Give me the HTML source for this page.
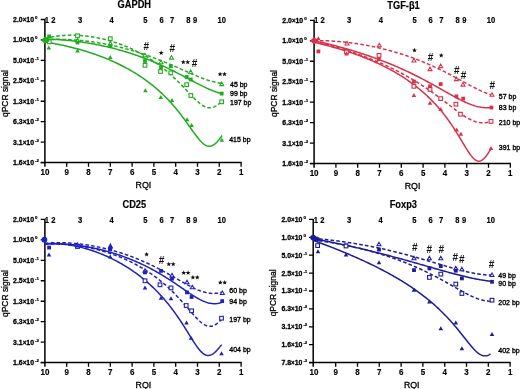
<!DOCTYPE html>
<html><head><meta charset="utf-8"><style>
html,body{margin:0;padding:0;background:#fff;overflow:hidden;}
svg{display:block;font-family:"Liberation Sans", sans-serif;filter:blur(0.35px);}
</style></head><body>
<svg width="520" height="389" viewBox="0 0 520 389">
<rect width="520" height="389" fill="#fff"/>
<text transform="translate(134.30,7.80) scale(1,1.100)" font-size="9.3" font-weight="bold" text-anchor="middle" fill="#000" stroke="#000" stroke-width="0.15">GAPDH</text>
<path d="M44.90,19.00 V166.80 M40.70,162.60 H241.70" stroke="#000" stroke-width="1.5" fill="none"/>
<path d="M40.70,19.50 H44.90 M40.70,39.94 H44.90 M40.70,60.39 H44.90 M40.70,80.83 H44.90 M40.70,101.27 H44.90 M40.70,121.71 H44.90 M40.70,142.16 H44.90 M40.70,162.60 H44.90 M66.70,162.60 V166.80 M88.50,162.60 V166.80 M110.30,162.60 V166.80 M132.10,162.60 V166.80 M153.90,162.60 V166.80 M175.70,162.60 V166.80 M197.50,162.60 V166.80 M219.30,162.60 V166.80 M241.10,162.60 V166.80 " stroke="#000" stroke-width="1.3" fill="none"/>
<text transform="translate(34.00,21.95) scale(1,1.050)" font-size="6.9" font-weight="bold" text-anchor="end" fill="#000" stroke="#000" stroke-width="0.28">2.0<tspan font-size="6.2">&#215;</tspan>10</text>
<text x="35.10" y="19.00" font-size="4.4" font-weight="bold" fill="#000" stroke="#000" stroke-width="0.20">0</text>
<text transform="translate(34.00,42.39) scale(1,1.050)" font-size="6.9" font-weight="bold" text-anchor="end" fill="#000" stroke="#000" stroke-width="0.28">1.0<tspan font-size="6.2">&#215;</tspan>10</text>
<text x="35.10" y="39.44" font-size="4.4" font-weight="bold" fill="#000" stroke="#000" stroke-width="0.20">0</text>
<text transform="translate(34.00,62.84) scale(1,1.050)" font-size="6.9" font-weight="bold" text-anchor="end" fill="#000" stroke="#000" stroke-width="0.28">5.0<tspan font-size="6.2">&#215;</tspan>10</text>
<text x="35.10" y="59.89" font-size="4.4" font-weight="bold" fill="#000" stroke="#000" stroke-width="0.20">-1</text>
<text transform="translate(34.00,83.28) scale(1,1.050)" font-size="6.9" font-weight="bold" text-anchor="end" fill="#000" stroke="#000" stroke-width="0.28">2.5<tspan font-size="6.2">&#215;</tspan>10</text>
<text x="35.10" y="80.33" font-size="4.4" font-weight="bold" fill="#000" stroke="#000" stroke-width="0.20">-1</text>
<text transform="translate(34.00,103.72) scale(1,1.050)" font-size="6.9" font-weight="bold" text-anchor="end" fill="#000" stroke="#000" stroke-width="0.28">1.3<tspan font-size="6.2">&#215;</tspan>10</text>
<text x="35.10" y="100.77" font-size="4.4" font-weight="bold" fill="#000" stroke="#000" stroke-width="0.20">-1</text>
<text transform="translate(34.00,124.16) scale(1,1.050)" font-size="6.9" font-weight="bold" text-anchor="end" fill="#000" stroke="#000" stroke-width="0.28">6.3<tspan font-size="6.2">&#215;</tspan>10</text>
<text x="35.10" y="121.21" font-size="4.4" font-weight="bold" fill="#000" stroke="#000" stroke-width="0.20">-2</text>
<text transform="translate(34.00,144.61) scale(1,1.050)" font-size="6.9" font-weight="bold" text-anchor="end" fill="#000" stroke="#000" stroke-width="0.28">3.1<tspan font-size="6.2">&#215;</tspan>10</text>
<text x="35.10" y="141.66" font-size="4.4" font-weight="bold" fill="#000" stroke="#000" stroke-width="0.20">-2</text>
<text transform="translate(34.00,165.05) scale(1,1.050)" font-size="6.9" font-weight="bold" text-anchor="end" fill="#000" stroke="#000" stroke-width="0.28">1.6<tspan font-size="6.2">&#215;</tspan>10</text>
<text x="35.10" y="162.10" font-size="4.4" font-weight="bold" fill="#000" stroke="#000" stroke-width="0.20">-2</text>
<text transform="translate(44.90,175.20) scale(1,1.100)" font-size="8" font-weight="bold" text-anchor="middle" fill="#000" stroke="#000" stroke-width="0.15">10</text>
<text transform="translate(66.70,175.20) scale(1,1.100)" font-size="8" font-weight="bold" text-anchor="middle" fill="#000" stroke="#000" stroke-width="0.15">9</text>
<text transform="translate(88.50,175.20) scale(1,1.100)" font-size="8" font-weight="bold" text-anchor="middle" fill="#000" stroke="#000" stroke-width="0.15">8</text>
<text transform="translate(110.30,175.20) scale(1,1.100)" font-size="8" font-weight="bold" text-anchor="middle" fill="#000" stroke="#000" stroke-width="0.15">7</text>
<text transform="translate(132.10,175.20) scale(1,1.100)" font-size="8" font-weight="bold" text-anchor="middle" fill="#000" stroke="#000" stroke-width="0.15">6</text>
<text transform="translate(153.90,175.20) scale(1,1.100)" font-size="8" font-weight="bold" text-anchor="middle" fill="#000" stroke="#000" stroke-width="0.15">5</text>
<text transform="translate(175.70,175.20) scale(1,1.100)" font-size="8" font-weight="bold" text-anchor="middle" fill="#000" stroke="#000" stroke-width="0.15">4</text>
<text transform="translate(197.50,175.20) scale(1,1.100)" font-size="8" font-weight="bold" text-anchor="middle" fill="#000" stroke="#000" stroke-width="0.15">3</text>
<text transform="translate(219.30,175.20) scale(1,1.100)" font-size="8" font-weight="bold" text-anchor="middle" fill="#000" stroke="#000" stroke-width="0.15">2</text>
<text transform="translate(241.10,175.20) scale(1,1.100)" font-size="8" font-weight="bold" text-anchor="middle" fill="#000" stroke="#000" stroke-width="0.15">1</text>
<text transform="translate(46.80,22.60) scale(1,1.100)" font-size="7.6" font-weight="bold" text-anchor="middle" fill="#000" stroke="#000" stroke-width="0.15">1</text>
<text transform="translate(53.30,22.60) scale(1,1.100)" font-size="7.6" font-weight="bold" text-anchor="middle" fill="#000" stroke="#000" stroke-width="0.15">2</text>
<text transform="translate(80.00,22.60) scale(1,1.100)" font-size="7.6" font-weight="bold" text-anchor="middle" fill="#000" stroke="#000" stroke-width="0.15">3</text>
<text transform="translate(111.60,22.60) scale(1,1.100)" font-size="7.6" font-weight="bold" text-anchor="middle" fill="#000" stroke="#000" stroke-width="0.15">4</text>
<text transform="translate(145.30,22.60) scale(1,1.100)" font-size="7.6" font-weight="bold" text-anchor="middle" fill="#000" stroke="#000" stroke-width="0.15">5</text>
<text transform="translate(161.50,22.60) scale(1,1.100)" font-size="7.6" font-weight="bold" text-anchor="middle" fill="#000" stroke="#000" stroke-width="0.15">6</text>
<text transform="translate(172.10,22.60) scale(1,1.100)" font-size="7.6" font-weight="bold" text-anchor="middle" fill="#000" stroke="#000" stroke-width="0.15">7</text>
<text transform="translate(188.30,22.60) scale(1,1.100)" font-size="7.6" font-weight="bold" text-anchor="middle" fill="#000" stroke="#000" stroke-width="0.15">8</text>
<text transform="translate(195.20,22.60) scale(1,1.100)" font-size="7.6" font-weight="bold" text-anchor="middle" fill="#000" stroke="#000" stroke-width="0.15">9</text>
<text transform="translate(221.70,22.60) scale(1,1.100)" font-size="7.6" font-weight="bold" text-anchor="middle" fill="#000" stroke="#000" stroke-width="0.15">10</text>
<text x="143.40" y="188.40" font-size="8.8" text-anchor="middle" fill="#000" stroke="#000" stroke-width="0.30">RQI</text>
<text transform="translate(7.90,93.50) rotate(-90)" font-size="8.45" text-anchor="middle" fill="#000" stroke="#000" stroke-width="0.3">qPCR signal</text>
<path d="M44.90,39.83 L45.90,39.76 L46.91,39.70 L47.91,39.64 L48.92,39.59 L49.92,39.54 L50.93,39.50 L51.93,39.46 L52.94,39.43 L53.94,39.41 L54.95,39.39 L55.95,39.37 L56.95,39.36 L57.96,39.35 L58.96,39.35 L59.97,39.36 L60.97,39.37 L61.98,39.38 L62.98,39.40 L63.99,39.42 L64.99,39.45 L66.00,39.48 L67.00,39.52 L68.00,39.56 L69.01,39.61 L70.01,39.66 L71.02,39.71 L72.02,39.77 L73.03,39.84 L74.03,39.90 L75.04,39.98 L76.04,40.05 L77.05,40.13 L78.05,40.22 L79.05,40.31 L80.06,40.40 L81.06,40.50 L82.07,40.60 L83.07,40.70 L84.08,40.81 L85.08,40.92 L86.09,41.04 L87.09,41.16 L88.10,41.29 L89.10,41.42 L90.10,41.55 L91.11,41.68 L92.11,41.82 L93.12,41.97 L94.12,42.12 L95.13,42.27 L96.13,42.43 L97.14,42.59 L98.14,42.75 L99.15,42.92 L100.15,43.09 L101.15,43.26 L102.16,43.44 L103.16,43.63 L104.17,43.81 L105.17,44.00 L106.18,44.20 L107.18,44.39 L108.19,44.60 L109.19,44.80 L110.20,45.01 L111.20,45.23 L112.20,45.44 L113.21,45.66 L114.21,45.89 L115.22,46.12 L116.22,46.35 L117.23,46.59 L118.23,46.83 L119.24,47.07 L120.24,47.32 L121.25,47.57 L122.25,47.82 L123.25,48.08 L124.26,48.35 L125.26,48.61 L126.27,48.88 L127.27,49.16 L128.28,49.44 L129.28,49.72 L130.29,50.00 L131.29,50.29 L132.30,50.59 L133.30,50.88 L134.30,51.19 L135.31,51.49 L136.31,51.80 L137.32,52.11 L138.32,52.43 L139.33,52.75 L140.33,53.08 L141.34,53.40 L142.34,53.74 L143.35,54.07 L144.35,54.41 L145.35,54.75 L146.36,55.10 L147.36,55.45 L148.37,55.81 L149.37,56.17 L150.38,56.53 L151.38,56.89 L152.39,57.26 L153.39,57.64 L154.40,58.01 L155.40,58.40 L156.40,58.78 L157.41,59.17 L158.41,59.56 L159.42,59.95 L160.42,60.35 L161.43,60.75 L162.43,61.16 L163.44,61.56 L164.44,61.97 L165.45,62.39 L166.45,62.80 L167.45,63.22 L168.46,63.65 L169.46,64.07 L170.47,64.50 L171.47,64.93 L172.48,65.36 L173.48,65.79 L174.49,66.23 L175.49,66.67 L176.50,67.11 L177.50,67.55 L178.50,67.99 L179.51,68.44 L180.51,68.88 L181.52,69.33 L182.52,69.78 L183.53,70.22 L184.53,70.67 L185.54,71.12 L186.54,71.56 L187.55,72.01 L188.55,72.45 L189.55,72.89 L190.56,73.33 L191.56,73.77 L192.57,74.21 L193.57,74.64 L194.58,75.07 L195.58,75.49 L196.59,75.91 L197.59,76.33 L198.60,76.74 L199.60,77.14 L200.60,77.54 L201.61,77.93 L202.61,78.31 L203.62,78.69 L204.62,79.05 L205.63,79.41 L206.63,79.76 L207.64,80.09 L208.64,80.42 L209.65,80.73 L210.65,81.03 L211.65,81.32 L212.66,81.59 L213.66,81.85 L214.67,82.09 L215.67,82.32 L216.68,82.53 L217.68,82.72 L218.69,82.89 L219.69,83.05 L220.70,83.19 L221.70,83.31" stroke="#20ac20" stroke-width="1.5" fill="none" stroke-dasharray="3.6 2.2"/>
<path d="M44.90,39.18 L45.90,39.19 L46.91,39.21 L47.91,39.22 L48.92,39.24 L49.92,39.27 L50.93,39.30 L51.93,39.33 L52.94,39.37 L53.94,39.41 L54.95,39.46 L55.95,39.51 L56.95,39.56 L57.96,39.62 L58.96,39.68 L59.97,39.74 L60.97,39.81 L61.98,39.88 L62.98,39.96 L63.99,40.04 L64.99,40.12 L66.00,40.21 L67.00,40.30 L68.00,40.39 L69.01,40.49 L70.01,40.59 L71.02,40.70 L72.02,40.81 L73.03,40.92 L74.03,41.03 L75.04,41.15 L76.04,41.28 L77.05,41.40 L78.05,41.53 L79.05,41.67 L80.06,41.81 L81.06,41.95 L82.07,42.09 L83.07,42.24 L84.08,42.39 L85.08,42.55 L86.09,42.70 L87.09,42.87 L88.10,43.03 L89.10,43.20 L90.10,43.37 L91.11,43.55 L92.11,43.73 L93.12,43.91 L94.12,44.10 L95.13,44.29 L96.13,44.48 L97.14,44.68 L98.14,44.88 L99.15,45.09 L100.15,45.30 L101.15,45.51 L102.16,45.72 L103.16,45.94 L104.17,46.16 L105.17,46.39 L106.18,46.62 L107.18,46.85 L108.19,47.09 L109.19,47.33 L110.20,47.58 L111.20,47.82 L112.20,48.08 L113.21,48.33 L114.21,48.59 L115.22,48.85 L116.22,49.12 L117.23,49.39 L118.23,49.67 L119.24,49.94 L120.24,50.23 L121.25,50.51 L122.25,50.80 L123.25,51.10 L124.26,51.39 L125.26,51.69 L126.27,52.00 L127.27,52.31 L128.28,52.62 L129.28,52.94 L130.29,53.26 L131.29,53.59 L132.30,53.92 L133.30,54.25 L134.30,54.59 L135.31,54.93 L136.31,55.27 L137.32,55.62 L138.32,55.98 L139.33,56.34 L140.33,56.70 L141.34,57.07 L142.34,57.44 L143.35,57.81 L144.35,58.19 L145.35,58.57 L146.36,58.96 L147.36,59.35 L148.37,59.75 L149.37,60.15 L150.38,60.56 L151.38,60.97 L152.39,61.38 L153.39,61.80 L154.40,62.22 L155.40,62.65 L156.40,63.08 L157.41,63.51 L158.41,63.95 L159.42,64.39 L160.42,64.84 L161.43,65.29 L162.43,65.75 L163.44,66.21 L164.44,66.68 L165.45,67.14 L166.45,67.62 L167.45,68.09 L168.46,68.57 L169.46,69.06 L170.47,69.55 L171.47,70.04 L172.48,70.54 L173.48,71.03 L174.49,71.54 L175.49,72.04 L176.50,72.55 L177.50,73.07 L178.50,73.58 L179.51,74.10 L180.51,74.62 L181.52,75.14 L182.52,75.67 L183.53,76.20 L184.53,76.73 L185.54,77.26 L186.54,77.79 L187.55,78.33 L188.55,78.86 L189.55,79.40 L190.56,79.93 L191.56,80.47 L192.57,81.00 L193.57,81.53 L194.58,82.06 L195.58,82.59 L196.59,83.12 L197.59,83.64 L198.60,84.16 L199.60,84.68 L200.60,85.19 L201.61,85.70 L202.61,86.20 L203.62,86.69 L204.62,87.18 L205.63,87.66 L206.63,88.12 L207.64,88.58 L208.64,89.03 L209.65,89.47 L210.65,89.89 L211.65,90.30 L212.66,90.70 L213.66,91.08 L214.67,91.45 L215.67,91.80 L216.68,92.13 L217.68,92.44 L218.69,92.73 L219.69,93.00 L220.70,93.25 L221.70,93.48" stroke="#20ac20" stroke-width="1.5" fill="none"/>
<path d="M44.90,38.62 L45.90,38.33 L46.91,38.06 L47.91,37.80 L48.92,37.56 L49.92,37.33 L50.93,37.11 L51.93,36.91 L52.94,36.72 L53.94,36.55 L54.95,36.38 L55.95,36.23 L56.95,36.09 L57.96,35.96 L58.96,35.84 L59.97,35.73 L60.97,35.63 L61.98,35.55 L62.98,35.47 L63.99,35.40 L64.99,35.34 L66.00,35.29 L67.00,35.25 L68.00,35.22 L69.01,35.20 L70.01,35.18 L71.02,35.18 L72.02,35.18 L73.03,35.20 L74.03,35.22 L75.04,35.24 L76.04,35.28 L77.05,35.33 L78.05,35.38 L79.05,35.44 L80.06,35.51 L81.06,35.58 L82.07,35.66 L83.07,35.75 L84.08,35.85 L85.08,35.96 L86.09,36.07 L87.09,36.19 L88.10,36.32 L89.10,36.45 L90.10,36.60 L91.11,36.74 L92.11,36.90 L93.12,37.06 L94.12,37.23 L95.13,37.41 L96.13,37.60 L97.14,37.79 L98.14,37.99 L99.15,38.19 L100.15,38.41 L101.15,38.63 L102.16,38.85 L103.16,39.09 L104.17,39.33 L105.17,39.58 L106.18,39.83 L107.18,40.10 L108.19,40.37 L109.19,40.64 L110.20,40.93 L111.20,41.22 L112.20,41.52 L113.21,41.83 L114.21,42.14 L115.22,42.46 L116.22,42.79 L117.23,43.13 L118.23,43.47 L119.24,43.82 L120.24,44.18 L121.25,44.55 L122.25,44.93 L123.25,45.31 L124.26,45.70 L125.26,46.10 L126.27,46.51 L127.27,46.93 L128.28,47.35 L129.28,47.78 L130.29,48.23 L131.29,48.68 L132.30,49.14 L133.30,49.60 L134.30,50.08 L135.31,50.57 L136.31,51.06 L137.32,51.57 L138.32,52.08 L139.33,52.61 L140.33,53.14 L141.34,53.68 L142.34,54.24 L143.35,54.80 L144.35,55.37 L145.35,55.96 L146.36,56.55 L147.36,57.16 L148.37,57.78 L149.37,58.40 L150.38,59.04 L151.38,59.69 L152.39,60.36 L153.39,61.03 L154.40,61.71 L155.40,62.41 L156.40,63.12 L157.41,63.84 L158.41,64.58 L159.42,65.32 L160.42,66.08 L161.43,66.86 L162.43,67.64 L163.44,68.44 L164.44,69.25 L165.45,70.08 L166.45,70.92 L167.45,71.77 L168.46,72.64 L169.46,73.52 L170.47,74.41 L171.47,75.32 L172.48,76.24 L173.48,77.18 L174.49,78.13 L175.49,79.09 L176.50,80.06 L177.50,81.05 L178.50,82.04 L179.51,83.05 L180.51,84.07 L181.52,85.10 L182.52,86.14 L183.53,87.19 L184.53,88.24 L185.54,89.30 L186.54,90.36 L187.55,91.43 L188.55,92.49 L189.55,93.55 L190.56,94.61 L191.56,95.66 L192.57,96.69 L193.57,97.71 L194.58,98.71 L195.58,99.69 L196.59,100.64 L197.59,101.55 L198.60,102.43 L199.60,103.26 L200.60,104.04 L201.61,104.76 L202.61,105.42 L203.62,106.01 L204.62,106.53 L205.63,106.96 L206.63,107.31 L207.64,107.57 L208.64,107.74 L209.65,107.81 L210.65,107.78 L211.65,107.65 L212.66,107.42 L213.66,107.09 L214.67,106.66 L215.67,106.14 L216.68,105.53 L217.68,104.83 L218.69,104.05 L219.69,103.19 L220.70,102.26 L221.70,101.27" stroke="#20ac20" stroke-width="1.5" fill="none" stroke-dasharray="3.6 2.2"/>
<path d="M44.90,42.02 L45.90,42.17 L46.90,42.33 L47.90,42.49 L48.90,42.66 L49.90,42.82 L50.90,42.99 L51.90,43.17 L52.90,43.35 L53.91,43.53 L54.91,43.72 L55.91,43.90 L56.91,44.10 L57.91,44.29 L58.91,44.49 L59.91,44.70 L60.91,44.90 L61.91,45.11 L62.91,45.33 L63.91,45.55 L64.91,45.77 L65.91,45.99 L66.91,46.22 L67.91,46.45 L68.91,46.69 L69.91,46.93 L70.91,47.18 L71.92,47.42 L72.92,47.68 L73.92,47.93 L74.92,48.19 L75.92,48.46 L76.92,48.72 L77.92,49.00 L78.92,49.27 L79.92,49.55 L80.92,49.84 L81.92,50.12 L82.92,50.42 L83.92,50.71 L84.92,51.01 L85.92,51.32 L86.92,51.63 L87.92,51.95 L88.92,52.26 L89.93,52.59 L90.93,52.92 L91.93,53.25 L92.93,53.59 L93.93,53.93 L94.93,54.28 L95.93,54.63 L96.93,54.98 L97.93,55.35 L98.93,55.71 L99.93,56.08 L100.93,56.46 L101.93,56.84 L102.93,57.23 L103.93,57.62 L104.93,58.02 L105.93,58.43 L106.94,58.84 L107.94,59.25 L108.94,59.67 L109.94,60.10 L110.94,60.53 L111.94,60.97 L112.94,61.42 L113.94,61.87 L114.94,62.32 L115.94,62.79 L116.94,63.26 L117.94,63.74 L118.94,64.22 L119.94,64.71 L120.94,65.21 L121.94,65.71 L122.94,66.22 L123.94,66.74 L124.95,67.27 L125.95,67.80 L126.95,68.35 L127.95,68.89 L128.95,69.45 L129.95,70.02 L130.95,70.59 L131.95,71.17 L132.95,71.77 L133.95,72.37 L134.95,72.97 L135.95,73.59 L136.95,74.22 L137.95,74.86 L138.95,75.50 L139.95,76.16 L140.95,76.82 L141.95,77.50 L142.96,78.19 L143.96,78.89 L144.96,79.60 L145.96,80.32 L146.96,81.05 L147.96,81.79 L148.96,82.55 L149.96,83.31 L150.96,84.09 L151.96,84.89 L152.96,85.69 L153.96,86.51 L154.96,87.34 L155.96,88.19 L156.96,89.05 L157.96,89.93 L158.96,90.82 L159.96,91.72 L160.97,92.64 L161.97,93.58 L162.97,94.53 L163.97,95.50 L164.97,96.49 L165.97,97.50 L166.97,98.52 L167.97,99.56 L168.97,100.61 L169.97,101.69 L170.97,102.79 L171.97,103.90 L172.97,105.03 L173.97,106.19 L174.97,107.36 L175.97,108.55 L176.97,109.76 L177.98,111.00 L178.98,112.25 L179.98,113.52 L180.98,114.81 L181.98,116.12 L182.98,117.44 L183.98,118.79 L184.98,120.15 L185.98,121.52 L186.98,122.91 L187.98,124.31 L188.98,125.71 L189.98,127.13 L190.98,128.54 L191.98,129.95 L192.98,131.36 L193.98,132.75 L194.98,134.12 L195.99,135.47 L196.99,136.79 L197.99,138.06 L198.99,139.29 L199.99,140.45 L200.99,141.54 L201.99,142.54 L202.99,143.45 L203.99,144.25 L204.99,144.94 L205.99,145.49 L206.99,145.91 L207.99,146.18 L208.99,146.30 L209.99,146.27 L210.99,146.09 L211.99,145.74 L212.99,145.25 L214.00,144.62 L215.00,143.85 L216.00,142.95 L217.00,141.94 L218.00,140.82 L219.00,139.61 L220.00,138.32 L221.00,136.96 L222.00,135.53" stroke="#20ac20" stroke-width="1.5" fill="none"/>
<polygon points="77.50,38.40 75.50,41.90 79.50,41.90" fill="#fff" stroke="#20ac20" stroke-width="1.05" stroke-linejoin="miter"/>
<polygon points="110.30,41.40 108.30,44.90 112.30,44.90" fill="#fff" stroke="#20ac20" stroke-width="1.05" stroke-linejoin="miter"/>
<polygon points="145.00,53.30 143.00,56.80 147.00,56.80" fill="#fff" stroke="#20ac20" stroke-width="1.05" stroke-linejoin="miter"/>
<polygon points="161.00,60.30 159.00,63.80 163.00,63.80" fill="#fff" stroke="#20ac20" stroke-width="1.05" stroke-linejoin="miter"/>
<polygon points="171.50,55.60 169.50,59.10 173.50,59.10" fill="#fff" stroke="#20ac20" stroke-width="1.05" stroke-linejoin="miter"/>
<polygon points="190.60,69.90 188.60,73.40 192.60,73.40" fill="#fff" stroke="#20ac20" stroke-width="1.05" stroke-linejoin="miter"/>
<polygon points="221.70,82.10 219.70,85.60 223.70,85.60" fill="#fff" stroke="#20ac20" stroke-width="1.05" stroke-linejoin="miter"/>
<rect x="47.20" y="34.50" width="3.80" height="3.80" fill="#20ac20"/>
<rect x="75.60" y="40.60" width="3.80" height="3.80" fill="#20ac20"/>
<rect x="108.40" y="44.10" width="3.80" height="3.80" fill="#20ac20"/>
<rect x="143.10" y="59.10" width="3.80" height="3.80" fill="#20ac20"/>
<rect x="159.10" y="65.40" width="3.80" height="3.80" fill="#20ac20"/>
<rect x="168.90" y="64.30" width="3.80" height="3.80" fill="#20ac20"/>
<rect x="184.80" y="75.10" width="3.80" height="3.80" fill="#20ac20"/>
<rect x="188.90" y="77.60" width="3.80" height="3.80" fill="#20ac20"/>
<rect x="219.80" y="91.70" width="3.80" height="3.80" fill="#20ac20"/>
<rect x="47.45" y="39.95" width="3.70" height="3.70" fill="#fff" stroke="#20ac20" stroke-width="1.1"/>
<rect x="75.65" y="33.95" width="3.70" height="3.70" fill="#fff" stroke="#20ac20" stroke-width="1.1"/>
<rect x="108.45" y="36.85" width="3.70" height="3.70" fill="#fff" stroke="#20ac20" stroke-width="1.1"/>
<rect x="143.15" y="63.45" width="3.70" height="3.70" fill="#fff" stroke="#20ac20" stroke-width="1.1"/>
<rect x="158.65" y="69.65" width="3.70" height="3.70" fill="#fff" stroke="#20ac20" stroke-width="1.1"/>
<rect x="168.95" y="71.05" width="3.70" height="3.70" fill="#fff" stroke="#20ac20" stroke-width="1.1"/>
<rect x="184.85" y="82.85" width="3.70" height="3.70" fill="#fff" stroke="#20ac20" stroke-width="1.1"/>
<rect x="188.95" y="93.65" width="3.70" height="3.70" fill="#fff" stroke="#20ac20" stroke-width="1.1"/>
<rect x="219.85" y="99.95" width="3.70" height="3.70" fill="#fff" stroke="#20ac20" stroke-width="1.1"/>
<polygon points="48.80,45.50 46.50,49.50 51.10,49.50" fill="#20ac20"/>
<polygon points="77.50,48.40 75.20,52.40 79.80,52.40" fill="#20ac20"/>
<polygon points="110.30,54.90 108.00,58.90 112.60,58.90" fill="#20ac20"/>
<polygon points="145.40,88.30 143.10,92.30 147.70,92.30" fill="#20ac20"/>
<polygon points="160.80,95.00 158.50,99.00 163.10,99.00" fill="#20ac20"/>
<polygon points="172.00,98.00 169.70,102.00 174.30,102.00" fill="#20ac20"/>
<polygon points="187.10,117.20 184.80,121.20 189.40,121.20" fill="#20ac20"/>
<polygon points="191.60,123.00 189.30,127.00 193.90,127.00" fill="#20ac20"/>
<polygon points="221.80,137.80 219.50,141.80 224.10,141.80" fill="#20ac20"/>
<polygon points="41.00,40.20 45.00,36.40 49.00,40.20 45.00,44.00" fill="#20ac20"/>
<rect x="45.10" y="38.30" width="3.80" height="3.80" fill="#20ac20"/>
<text x="146.30" y="49.80" font-size="10" font-weight="bold" text-anchor="middle" fill="#111">#</text>
<polygon points="161.20,50.50 161.86,52.09 163.58,52.23 162.27,53.35 162.67,55.02 161.20,54.12 159.73,55.02 160.13,53.35 158.82,52.23 160.54,52.09" fill="#111"/>
<text x="172.30" y="52.40" font-size="10" font-weight="bold" text-anchor="middle" fill="#111">#</text>
<polygon points="183.30,59.70 183.96,61.29 185.68,61.43 184.37,62.55 184.77,64.22 183.30,63.33 181.83,64.22 182.23,62.55 180.92,61.43 182.64,61.29" fill="#111"/><polygon points="187.70,59.70 188.36,61.29 190.08,61.43 188.77,62.55 189.17,64.22 187.70,63.33 186.23,64.22 186.63,62.55 185.32,61.43 187.04,61.29" fill="#111"/>
<text x="194.50" y="66.90" font-size="10" font-weight="bold" text-anchor="middle" fill="#111">#</text>
<polygon points="220.10,71.70 220.76,73.29 222.48,73.43 221.17,74.55 221.57,76.22 220.10,75.33 218.63,76.22 219.03,74.55 217.72,73.43 219.44,73.29" fill="#111"/><polygon points="224.50,71.70 225.16,73.29 226.88,73.43 225.57,74.55 225.97,76.22 224.50,75.33 223.03,76.22 223.43,74.55 222.12,73.43 223.84,73.29" fill="#111"/>
<text x="230.00" y="86.70" font-size="7" fill="#000" stroke="#000" stroke-width="0.35">45 bp</text>
<text x="230.00" y="96.40" font-size="7" fill="#000" stroke="#000" stroke-width="0.35">99 bp</text>
<text x="230.00" y="104.90" font-size="7" fill="#000" stroke="#000" stroke-width="0.35">197 bp</text>
<text x="229.20" y="142.10" font-size="7" fill="#000" stroke="#000" stroke-width="0.35">415 bp</text>
<text transform="translate(403.50,8.60) scale(1,1.100)" font-size="9.3" font-weight="bold" text-anchor="middle" fill="#000" stroke="#000" stroke-width="0.15">TGF-&#946;1</text>
<path d="M314.10,19.80 V167.80 M309.90,163.60 H510.90" stroke="#000" stroke-width="1.5" fill="none"/>
<path d="M309.90,20.30 H314.10 M309.90,40.77 H314.10 M309.90,61.24 H314.10 M309.90,81.71 H314.10 M309.90,102.19 H314.10 M309.90,122.66 H314.10 M309.90,143.13 H314.10 M309.90,163.60 H314.10 M335.90,163.60 V167.80 M357.70,163.60 V167.80 M379.50,163.60 V167.80 M401.30,163.60 V167.80 M423.10,163.60 V167.80 M444.90,163.60 V167.80 M466.70,163.60 V167.80 M488.50,163.60 V167.80 M510.30,163.60 V167.80 " stroke="#000" stroke-width="1.3" fill="none"/>
<text transform="translate(303.20,22.75) scale(1,1.050)" font-size="6.9" font-weight="bold" text-anchor="end" fill="#000" stroke="#000" stroke-width="0.28">2.0<tspan font-size="6.2">&#215;</tspan>10</text>
<text x="304.30" y="19.80" font-size="4.4" font-weight="bold" fill="#000" stroke="#000" stroke-width="0.20">0</text>
<text transform="translate(303.20,43.22) scale(1,1.050)" font-size="6.9" font-weight="bold" text-anchor="end" fill="#000" stroke="#000" stroke-width="0.28">1.0<tspan font-size="6.2">&#215;</tspan>10</text>
<text x="304.30" y="40.27" font-size="4.4" font-weight="bold" fill="#000" stroke="#000" stroke-width="0.20">0</text>
<text transform="translate(303.20,63.69) scale(1,1.050)" font-size="6.9" font-weight="bold" text-anchor="end" fill="#000" stroke="#000" stroke-width="0.28">5.0<tspan font-size="6.2">&#215;</tspan>10</text>
<text x="304.30" y="60.74" font-size="4.4" font-weight="bold" fill="#000" stroke="#000" stroke-width="0.20">-1</text>
<text transform="translate(303.20,84.16) scale(1,1.050)" font-size="6.9" font-weight="bold" text-anchor="end" fill="#000" stroke="#000" stroke-width="0.28">2.5<tspan font-size="6.2">&#215;</tspan>10</text>
<text x="304.30" y="81.21" font-size="4.4" font-weight="bold" fill="#000" stroke="#000" stroke-width="0.20">-1</text>
<text transform="translate(303.20,104.64) scale(1,1.050)" font-size="6.9" font-weight="bold" text-anchor="end" fill="#000" stroke="#000" stroke-width="0.28">1.3<tspan font-size="6.2">&#215;</tspan>10</text>
<text x="304.30" y="101.69" font-size="4.4" font-weight="bold" fill="#000" stroke="#000" stroke-width="0.20">-1</text>
<text transform="translate(303.20,125.11) scale(1,1.050)" font-size="6.9" font-weight="bold" text-anchor="end" fill="#000" stroke="#000" stroke-width="0.28">6.3<tspan font-size="6.2">&#215;</tspan>10</text>
<text x="304.30" y="122.16" font-size="4.4" font-weight="bold" fill="#000" stroke="#000" stroke-width="0.20">-2</text>
<text transform="translate(303.20,145.58) scale(1,1.050)" font-size="6.9" font-weight="bold" text-anchor="end" fill="#000" stroke="#000" stroke-width="0.28">3.1<tspan font-size="6.2">&#215;</tspan>10</text>
<text x="304.30" y="142.63" font-size="4.4" font-weight="bold" fill="#000" stroke="#000" stroke-width="0.20">-2</text>
<text transform="translate(303.20,166.05) scale(1,1.050)" font-size="6.9" font-weight="bold" text-anchor="end" fill="#000" stroke="#000" stroke-width="0.28">1.6<tspan font-size="6.2">&#215;</tspan>10</text>
<text x="304.30" y="163.10" font-size="4.4" font-weight="bold" fill="#000" stroke="#000" stroke-width="0.20">-2</text>
<text transform="translate(314.10,176.20) scale(1,1.100)" font-size="8" font-weight="bold" text-anchor="middle" fill="#000" stroke="#000" stroke-width="0.15">10</text>
<text transform="translate(335.90,176.20) scale(1,1.100)" font-size="8" font-weight="bold" text-anchor="middle" fill="#000" stroke="#000" stroke-width="0.15">9</text>
<text transform="translate(357.70,176.20) scale(1,1.100)" font-size="8" font-weight="bold" text-anchor="middle" fill="#000" stroke="#000" stroke-width="0.15">8</text>
<text transform="translate(379.50,176.20) scale(1,1.100)" font-size="8" font-weight="bold" text-anchor="middle" fill="#000" stroke="#000" stroke-width="0.15">7</text>
<text transform="translate(401.30,176.20) scale(1,1.100)" font-size="8" font-weight="bold" text-anchor="middle" fill="#000" stroke="#000" stroke-width="0.15">6</text>
<text transform="translate(423.10,176.20) scale(1,1.100)" font-size="8" font-weight="bold" text-anchor="middle" fill="#000" stroke="#000" stroke-width="0.15">5</text>
<text transform="translate(444.90,176.20) scale(1,1.100)" font-size="8" font-weight="bold" text-anchor="middle" fill="#000" stroke="#000" stroke-width="0.15">4</text>
<text transform="translate(466.70,176.20) scale(1,1.100)" font-size="8" font-weight="bold" text-anchor="middle" fill="#000" stroke="#000" stroke-width="0.15">3</text>
<text transform="translate(488.50,176.20) scale(1,1.100)" font-size="8" font-weight="bold" text-anchor="middle" fill="#000" stroke="#000" stroke-width="0.15">2</text>
<text transform="translate(510.30,176.20) scale(1,1.100)" font-size="8" font-weight="bold" text-anchor="middle" fill="#000" stroke="#000" stroke-width="0.15">1</text>
<text transform="translate(316.00,23.40) scale(1,1.100)" font-size="7.6" font-weight="bold" text-anchor="middle" fill="#000" stroke="#000" stroke-width="0.15">1</text>
<text transform="translate(322.50,23.40) scale(1,1.100)" font-size="7.6" font-weight="bold" text-anchor="middle" fill="#000" stroke="#000" stroke-width="0.15">2</text>
<text transform="translate(349.20,23.40) scale(1,1.100)" font-size="7.6" font-weight="bold" text-anchor="middle" fill="#000" stroke="#000" stroke-width="0.15">3</text>
<text transform="translate(380.80,23.40) scale(1,1.100)" font-size="7.6" font-weight="bold" text-anchor="middle" fill="#000" stroke="#000" stroke-width="0.15">4</text>
<text transform="translate(414.50,23.40) scale(1,1.100)" font-size="7.6" font-weight="bold" text-anchor="middle" fill="#000" stroke="#000" stroke-width="0.15">5</text>
<text transform="translate(430.70,23.40) scale(1,1.100)" font-size="7.6" font-weight="bold" text-anchor="middle" fill="#000" stroke="#000" stroke-width="0.15">6</text>
<text transform="translate(441.30,23.40) scale(1,1.100)" font-size="7.6" font-weight="bold" text-anchor="middle" fill="#000" stroke="#000" stroke-width="0.15">7</text>
<text transform="translate(457.50,23.40) scale(1,1.100)" font-size="7.6" font-weight="bold" text-anchor="middle" fill="#000" stroke="#000" stroke-width="0.15">8</text>
<text transform="translate(464.40,23.40) scale(1,1.100)" font-size="7.6" font-weight="bold" text-anchor="middle" fill="#000" stroke="#000" stroke-width="0.15">9</text>
<text transform="translate(490.90,23.40) scale(1,1.100)" font-size="7.6" font-weight="bold" text-anchor="middle" fill="#000" stroke="#000" stroke-width="0.15">10</text>
<text x="412.60" y="189.40" font-size="8.8" text-anchor="middle" fill="#000" stroke="#000" stroke-width="0.30">RQI</text>
<text transform="translate(277.10,93.50) rotate(-90)" font-size="8.45" text-anchor="middle" fill="#000" stroke="#000" stroke-width="0.3">qPCR signal</text>
<path d="M314.10,40.67 L315.10,40.65 L316.10,40.64 L317.11,40.64 L318.11,40.64 L319.11,40.64 L320.11,40.65 L321.12,40.66 L322.12,40.68 L323.12,40.70 L324.12,40.72 L325.12,40.75 L326.13,40.79 L327.13,40.82 L328.13,40.87 L329.13,40.91 L330.14,40.96 L331.14,41.01 L332.14,41.07 L333.14,41.13 L334.15,41.20 L335.15,41.27 L336.15,41.34 L337.15,41.42 L338.15,41.50 L339.16,41.58 L340.16,41.67 L341.16,41.76 L342.16,41.86 L343.17,41.96 L344.17,42.06 L345.17,42.17 L346.17,42.28 L347.17,42.39 L348.18,42.51 L349.18,42.63 L350.18,42.76 L351.18,42.89 L352.19,43.02 L353.19,43.15 L354.19,43.29 L355.19,43.44 L356.19,43.58 L357.20,43.74 L358.20,43.89 L359.20,44.05 L360.20,44.21 L361.21,44.37 L362.21,44.54 L363.21,44.71 L364.21,44.89 L365.22,45.07 L366.22,45.25 L367.22,45.44 L368.22,45.63 L369.22,45.82 L370.23,46.02 L371.23,46.22 L372.23,46.43 L373.23,46.64 L374.24,46.85 L375.24,47.06 L376.24,47.28 L377.24,47.51 L378.24,47.73 L379.25,47.96 L380.25,48.20 L381.25,48.44 L382.25,48.68 L383.26,48.92 L384.26,49.17 L385.26,49.43 L386.26,49.68 L387.26,49.94 L388.27,50.21 L389.27,50.48 L390.27,50.75 L391.27,51.03 L392.28,51.31 L393.28,51.59 L394.28,51.88 L395.28,52.17 L396.29,52.47 L397.29,52.77 L398.29,53.07 L399.29,53.38 L400.29,53.69 L401.30,54.01 L402.30,54.33 L403.30,54.65 L404.30,54.98 L405.31,55.31 L406.31,55.65 L407.31,55.99 L408.31,56.34 L409.31,56.68 L410.32,57.04 L411.32,57.40 L412.32,57.76 L413.32,58.13 L414.33,58.50 L415.33,58.87 L416.33,59.25 L417.33,59.63 L418.34,60.02 L419.34,60.42 L420.34,60.81 L421.34,61.22 L422.34,61.62 L423.35,62.03 L424.35,62.45 L425.35,62.87 L426.35,63.29 L427.36,63.72 L428.36,64.15 L429.36,64.59 L430.36,65.03 L431.36,65.48 L432.37,65.93 L433.37,66.38 L434.37,66.84 L435.37,67.31 L436.38,67.77 L437.38,68.25 L438.38,68.72 L439.38,69.20 L440.38,69.69 L441.39,70.18 L442.39,70.67 L443.39,71.17 L444.39,71.67 L445.40,72.18 L446.40,72.69 L447.40,73.20 L448.40,73.72 L449.41,74.24 L450.41,74.76 L451.41,75.29 L452.41,75.82 L453.41,76.35 L454.42,76.88 L455.42,77.42 L456.42,77.96 L457.42,78.50 L458.43,79.05 L459.43,79.59 L460.43,80.14 L461.43,80.68 L462.43,81.23 L463.44,81.78 L464.44,82.33 L465.44,82.88 L466.44,83.42 L467.45,83.97 L468.45,84.51 L469.45,85.05 L470.45,85.59 L471.45,86.12 L472.46,86.65 L473.46,87.18 L474.46,87.70 L475.46,88.21 L476.47,88.72 L477.47,89.22 L478.47,89.71 L479.47,90.19 L480.48,90.66 L481.48,91.12 L482.48,91.57 L483.48,92.00 L484.48,92.42 L485.49,92.83 L486.49,93.22 L487.49,93.59 L488.49,93.95 L489.50,94.29 L490.50,94.60 L491.50,94.90" stroke="#d8324a" stroke-width="1.5" fill="none" stroke-dasharray="3.6 2.2"/>
<path d="M314.10,40.80 L315.11,41.02 L316.11,41.24 L317.12,41.46 L318.12,41.68 L319.13,41.91 L320.13,42.14 L321.14,42.37 L322.14,42.60 L323.15,42.84 L324.15,43.07 L325.16,43.31 L326.16,43.55 L327.17,43.80 L328.17,44.04 L329.18,44.29 L330.18,44.54 L331.19,44.79 L332.19,45.04 L333.20,45.30 L334.20,45.55 L335.21,45.81 L336.21,46.07 L337.22,46.34 L338.22,46.60 L339.23,46.87 L340.23,47.14 L341.24,47.42 L342.24,47.69 L343.25,47.97 L344.25,48.25 L345.26,48.53 L346.26,48.82 L347.27,49.11 L348.27,49.40 L349.28,49.69 L350.28,49.98 L351.29,50.28 L352.29,50.58 L353.30,50.88 L354.30,51.19 L355.31,51.49 L356.31,51.80 L357.32,52.12 L358.33,52.43 L359.33,52.75 L360.34,53.07 L361.34,53.39 L362.35,53.72 L363.35,54.05 L364.36,54.38 L365.36,54.71 L366.37,55.05 L367.37,55.39 L368.38,55.73 L369.38,56.08 L370.39,56.43 L371.39,56.78 L372.40,57.13 L373.40,57.49 L374.41,57.85 L375.41,58.21 L376.42,58.58 L377.42,58.95 L378.43,59.32 L379.43,59.70 L380.44,60.08 L381.44,60.46 L382.45,60.84 L383.45,61.23 L384.46,61.62 L385.46,62.02 L386.47,62.42 L387.47,62.82 L388.48,63.22 L389.48,63.63 L390.49,64.04 L391.49,64.46 L392.50,64.88 L393.50,65.30 L394.51,65.73 L395.51,66.15 L396.52,66.59 L397.52,67.02 L398.53,67.46 L399.53,67.90 L400.54,68.35 L401.54,68.80 L402.55,69.26 L403.56,69.71 L404.56,70.17 L405.57,70.64 L406.57,71.11 L407.58,71.58 L408.58,72.05 L409.59,72.53 L410.59,73.02 L411.60,73.50 L412.60,73.99 L413.61,74.49 L414.61,74.98 L415.62,75.48 L416.62,75.99 L417.63,76.50 L418.63,77.01 L419.64,77.52 L420.64,78.04 L421.65,78.56 L422.65,79.09 L423.66,79.62 L424.66,80.15 L425.67,80.69 L426.67,81.22 L427.68,81.77 L428.68,82.31 L429.69,82.86 L430.69,83.41 L431.70,83.96 L432.70,84.51 L433.71,85.07 L434.71,85.63 L435.72,86.19 L436.72,86.75 L437.73,87.32 L438.73,87.89 L439.74,88.45 L440.74,89.02 L441.75,89.59 L442.75,90.16 L443.76,90.73 L444.76,91.30 L445.77,91.87 L446.77,92.44 L447.78,93.01 L448.79,93.57 L449.79,94.14 L450.80,94.70 L451.80,95.26 L452.81,95.81 L453.81,96.36 L454.82,96.91 L455.82,97.45 L456.83,97.99 L457.83,98.52 L458.84,99.04 L459.84,99.56 L460.85,100.06 L461.85,100.56 L462.86,101.05 L463.86,101.53 L464.87,102.00 L465.87,102.45 L466.88,102.89 L467.88,103.32 L468.89,103.73 L469.89,104.13 L470.90,104.51 L471.90,104.88 L472.91,105.22 L473.91,105.55 L474.92,105.86 L475.92,106.14 L476.93,106.41 L477.93,106.65 L478.94,106.87 L479.94,107.06 L480.95,107.24 L481.95,107.38 L482.96,107.50 L483.96,107.60 L484.97,107.67 L485.97,107.71 L486.98,107.72 L487.98,107.71 L488.99,107.67 L489.99,107.60 L491.00,107.51" stroke="#d8324a" stroke-width="1.5" fill="none"/>
<path d="M314.10,41.00 L315.11,41.25 L316.11,41.50 L317.12,41.76 L318.12,42.01 L319.13,42.27 L320.13,42.53 L321.14,42.79 L322.14,43.06 L323.15,43.32 L324.15,43.59 L325.16,43.86 L326.16,44.14 L327.17,44.41 L328.17,44.69 L329.18,44.97 L330.18,45.25 L331.19,45.54 L332.19,45.83 L333.20,46.12 L334.20,46.41 L335.21,46.70 L336.21,47.00 L337.22,47.30 L338.22,47.60 L339.23,47.91 L340.23,48.21 L341.24,48.52 L342.24,48.84 L343.25,49.15 L344.25,49.47 L345.26,49.79 L346.26,50.11 L347.27,50.44 L348.27,50.77 L349.28,51.10 L350.28,51.44 L351.29,51.77 L352.29,52.12 L353.30,52.46 L354.30,52.81 L355.31,53.16 L356.31,53.51 L357.32,53.87 L358.33,54.22 L359.33,54.59 L360.34,54.95 L361.34,55.32 L362.35,55.69 L363.35,56.07 L364.36,56.45 L365.36,56.83 L366.37,57.22 L367.37,57.60 L368.38,58.00 L369.38,58.39 L370.39,58.79 L371.39,59.20 L372.40,59.60 L373.40,60.01 L374.41,60.43 L375.41,60.85 L376.42,61.27 L377.42,61.70 L378.43,62.13 L379.43,62.56 L380.44,63.00 L381.44,63.44 L382.45,63.89 L383.45,64.34 L384.46,64.79 L385.46,65.25 L386.47,65.72 L387.47,66.19 L388.48,66.66 L389.48,67.13 L390.49,67.62 L391.49,68.10 L392.50,68.59 L393.50,69.09 L394.51,69.59 L395.51,70.10 L396.52,70.61 L397.52,71.12 L398.53,71.64 L399.53,72.17 L400.54,72.70 L401.54,73.23 L402.55,73.77 L403.56,74.32 L404.56,74.87 L405.57,75.43 L406.57,75.99 L407.58,76.56 L408.58,77.13 L409.59,77.71 L410.59,78.30 L411.60,78.89 L412.60,79.48 L413.61,80.08 L414.61,80.69 L415.62,81.31 L416.62,81.93 L417.63,82.55 L418.63,83.18 L419.64,83.82 L420.64,84.46 L421.65,85.11 L422.65,85.77 L423.66,86.43 L424.66,87.10 L425.67,87.77 L426.67,88.45 L427.68,89.14 L428.68,89.83 L429.69,90.53 L430.69,91.23 L431.70,91.94 L432.70,92.66 L433.71,93.38 L434.71,94.10 L435.72,94.83 L436.72,95.57 L437.73,96.31 L438.73,97.06 L439.74,97.81 L440.74,98.56 L441.75,99.32 L442.75,100.08 L443.76,100.84 L444.76,101.61 L445.77,102.38 L446.77,103.15 L447.78,103.92 L448.79,104.70 L449.79,105.47 L450.80,106.24 L451.80,107.01 L452.81,107.78 L453.81,108.54 L454.82,109.30 L455.82,110.06 L456.83,110.81 L457.83,111.55 L458.84,112.28 L459.84,113.00 L460.85,113.71 L461.85,114.40 L462.86,115.09 L463.86,115.75 L464.87,116.40 L465.87,117.02 L466.88,117.63 L467.88,118.21 L468.89,118.76 L469.89,119.29 L470.90,119.79 L471.90,120.25 L472.91,120.69 L473.91,121.08 L474.92,121.44 L475.92,121.77 L476.93,122.05 L477.93,122.29 L478.94,122.48 L479.94,122.63 L480.95,122.74 L481.95,122.80 L482.96,122.81 L483.96,122.78 L484.97,122.70 L485.97,122.57 L486.98,122.40 L487.98,122.18 L488.99,121.91 L489.99,121.60 L491.00,121.25" stroke="#d8324a" stroke-width="1.5" fill="none" stroke-dasharray="3.6 2.2"/>
<path d="M314.10,42.43 L315.11,42.66 L316.11,42.89 L317.12,43.12 L318.12,43.35 L319.13,43.59 L320.13,43.83 L321.14,44.07 L322.14,44.31 L323.15,44.56 L324.15,44.81 L325.16,45.06 L326.16,45.32 L327.17,45.58 L328.17,45.84 L329.18,46.11 L330.18,46.37 L331.19,46.65 L332.19,46.92 L333.20,47.20 L334.20,47.48 L335.21,47.76 L336.21,48.05 L337.22,48.34 L338.22,48.64 L339.23,48.93 L340.23,49.23 L341.24,49.54 L342.24,49.85 L343.25,50.16 L344.25,50.47 L345.26,50.79 L346.26,51.11 L347.27,51.44 L348.27,51.77 L349.28,52.10 L350.28,52.44 L351.29,52.78 L352.29,53.12 L353.30,53.47 L354.30,53.82 L355.31,54.18 L356.31,54.54 L357.32,54.91 L358.33,55.28 L359.33,55.65 L360.34,56.03 L361.34,56.41 L362.35,56.80 L363.35,57.19 L364.36,57.58 L365.36,57.98 L366.37,58.39 L367.37,58.80 L368.38,59.21 L369.38,59.63 L370.39,60.06 L371.39,60.48 L372.40,60.92 L373.40,61.36 L374.41,61.80 L375.41,62.25 L376.42,62.71 L377.42,63.17 L378.43,63.64 L379.43,64.11 L380.44,64.59 L381.44,65.08 L382.45,65.57 L383.45,66.06 L384.46,66.57 L385.46,67.08 L386.47,67.59 L387.47,68.12 L388.48,68.65 L389.48,69.18 L390.49,69.73 L391.49,70.28 L392.50,70.83 L393.50,71.40 L394.51,71.97 L395.51,72.55 L396.52,73.14 L397.52,73.74 L398.53,74.34 L399.53,74.96 L400.54,75.58 L401.54,76.21 L402.55,76.85 L403.56,77.49 L404.56,78.15 L405.57,78.82 L406.57,79.50 L407.58,80.18 L408.58,80.88 L409.59,81.59 L410.59,82.30 L411.60,83.03 L412.60,83.77 L413.61,84.52 L414.61,85.29 L415.62,86.06 L416.62,86.85 L417.63,87.65 L418.63,88.46 L419.64,89.29 L420.64,90.12 L421.65,90.98 L422.65,91.84 L423.66,92.73 L424.66,93.62 L425.67,94.53 L426.67,95.46 L427.68,96.41 L428.68,97.37 L429.69,98.34 L430.69,99.34 L431.70,100.35 L432.70,101.38 L433.71,102.44 L434.71,103.51 L435.72,104.60 L436.72,105.71 L437.73,106.84 L438.73,107.99 L439.74,109.16 L440.74,110.36 L441.75,111.58 L442.75,112.83 L443.76,114.10 L444.76,115.39 L445.77,116.71 L446.77,118.05 L447.78,119.42 L448.79,120.81 L449.79,122.24 L450.80,123.68 L451.80,125.16 L452.81,126.66 L453.81,128.18 L454.82,129.74 L455.82,131.31 L456.83,132.91 L457.83,134.53 L458.84,136.17 L459.84,137.82 L460.85,139.49 L461.85,141.16 L462.86,142.84 L463.86,144.51 L464.87,146.18 L465.87,147.82 L466.88,149.43 L467.88,151.01 L468.89,152.53 L469.89,153.98 L470.90,155.34 L471.90,156.61 L472.91,157.75 L473.91,158.75 L474.92,159.60 L475.92,160.28 L476.93,160.77 L477.93,161.06 L478.94,161.15 L479.94,161.03 L480.95,160.70 L481.95,160.18 L482.96,159.45 L483.96,158.55 L484.97,157.48 L485.97,156.26 L486.98,154.92 L487.98,153.46 L488.99,151.90 L489.99,150.27 L491.00,148.57" stroke="#d8324a" stroke-width="1.5" fill="none"/>
<polygon points="347.00,41.40 345.00,44.90 349.00,44.90" fill="#fff" stroke="#d8324a" stroke-width="1.05" stroke-linejoin="miter"/>
<polygon points="379.30,43.30 377.30,46.80 381.30,46.80" fill="#fff" stroke="#d8324a" stroke-width="1.05" stroke-linejoin="miter"/>
<polygon points="414.00,58.40 412.00,61.90 416.00,61.90" fill="#fff" stroke="#d8324a" stroke-width="1.05" stroke-linejoin="miter"/>
<polygon points="430.00,67.10 428.00,70.60 432.00,70.60" fill="#fff" stroke="#d8324a" stroke-width="1.05" stroke-linejoin="miter"/>
<polygon points="440.70,64.10 438.70,67.60 442.70,67.60" fill="#fff" stroke="#d8324a" stroke-width="1.05" stroke-linejoin="miter"/>
<polygon points="456.40,77.10 454.40,80.60 458.40,80.60" fill="#fff" stroke="#d8324a" stroke-width="1.05" stroke-linejoin="miter"/>
<polygon points="463.00,82.60 461.00,86.10 465.00,86.10" fill="#fff" stroke="#d8324a" stroke-width="1.05" stroke-linejoin="miter"/>
<polygon points="492.00,92.80 490.00,96.30 494.00,96.30" fill="#fff" stroke="#d8324a" stroke-width="1.05" stroke-linejoin="miter"/>
<rect x="316.50" y="49.50" width="3.80" height="3.80" fill="#d8324a"/>
<rect x="344.60" y="48.60" width="3.80" height="3.80" fill="#d8324a"/>
<rect x="377.10" y="55.10" width="3.80" height="3.80" fill="#d8324a"/>
<rect x="412.10" y="79.70" width="3.80" height="3.80" fill="#d8324a"/>
<rect x="428.10" y="84.40" width="3.80" height="3.80" fill="#d8324a"/>
<rect x="438.80" y="82.20" width="3.80" height="3.80" fill="#d8324a"/>
<rect x="454.50" y="94.50" width="3.80" height="3.80" fill="#d8324a"/>
<rect x="461.30" y="96.70" width="3.80" height="3.80" fill="#d8324a"/>
<rect x="489.50" y="105.60" width="3.80" height="3.80" fill="#d8324a"/>
<rect x="344.65" y="50.15" width="3.70" height="3.70" fill="#fff" stroke="#d8324a" stroke-width="1.1"/>
<rect x="377.15" y="53.55" width="3.70" height="3.70" fill="#fff" stroke="#d8324a" stroke-width="1.1"/>
<rect x="412.05" y="84.45" width="3.70" height="3.70" fill="#fff" stroke="#d8324a" stroke-width="1.1"/>
<rect x="428.15" y="87.55" width="3.70" height="3.70" fill="#fff" stroke="#d8324a" stroke-width="1.1"/>
<rect x="438.85" y="96.75" width="3.70" height="3.70" fill="#fff" stroke="#d8324a" stroke-width="1.1"/>
<rect x="454.05" y="102.35" width="3.70" height="3.70" fill="#fff" stroke="#d8324a" stroke-width="1.1"/>
<rect x="458.65" y="112.35" width="3.70" height="3.70" fill="#fff" stroke="#d8324a" stroke-width="1.1"/>
<rect x="489.15" y="119.55" width="3.70" height="3.70" fill="#fff" stroke="#d8324a" stroke-width="1.1"/>
<polygon points="346.50,51.60 344.20,55.60 348.80,55.60" fill="#d8324a"/>
<polygon points="379.00,56.90 376.70,60.90 381.30,60.90" fill="#d8324a"/>
<polygon points="413.90,93.10 411.60,97.10 416.20,97.10" fill="#d8324a"/>
<polygon points="430.00,100.80 427.70,104.80 432.30,104.80" fill="#d8324a"/>
<polygon points="440.70,107.00 438.40,111.00 443.00,111.00" fill="#d8324a"/>
<polygon points="456.70,127.60 454.40,131.60 459.00,131.60" fill="#d8324a"/>
<polygon points="460.90,131.80 458.60,135.80 463.20,135.80" fill="#d8324a"/>
<polygon points="491.00,146.10 488.70,150.10 493.30,150.10" fill="#d8324a"/>
<polygon points="310.00,40.70 314.00,36.90 318.00,40.70 314.00,44.50" fill="#d8324a"/>
<polygon points="318.40,36.20 316.10,40.20 320.70,40.20" fill="#d8324a"/>
<rect x="314.10" y="38.80" width="3.80" height="3.80" fill="#d8324a"/>
<polygon points="414.50,47.80 415.16,49.39 416.88,49.53 415.57,50.65 415.97,52.32 414.50,51.42 413.03,52.32 413.43,50.65 412.12,49.53 413.84,49.39" fill="#111"/>
<text x="430.60" y="61.10" font-size="10" font-weight="bold" text-anchor="middle" fill="#111">#</text>
<polygon points="441.20,53.00 441.86,54.59 443.58,54.73 442.27,55.85 442.67,57.52 441.20,56.62 439.73,57.52 440.13,55.85 438.82,54.73 440.54,54.59" fill="#111"/>
<text x="456.90" y="73.50" font-size="10" font-weight="bold" text-anchor="middle" fill="#111">#</text>
<text x="463.60" y="78.60" font-size="10" font-weight="bold" text-anchor="middle" fill="#111">#</text>
<text x="492.20" y="89.40" font-size="10" font-weight="bold" text-anchor="middle" fill="#111">#</text>
<text x="498.80" y="98.60" font-size="7" fill="#000" stroke="#000" stroke-width="0.35">57 bp</text>
<text x="498.80" y="110.20" font-size="7" fill="#000" stroke="#000" stroke-width="0.35">83 bp</text>
<text x="498.80" y="124.60" font-size="7" fill="#000" stroke="#000" stroke-width="0.35">210 bp</text>
<text x="498.80" y="150.40" font-size="7" fill="#000" stroke="#000" stroke-width="0.35">391 bp</text>
<text transform="translate(134.30,207.70) scale(1,1.100)" font-size="9.3" font-weight="bold" text-anchor="middle" fill="#000" stroke="#000" stroke-width="0.15">CD25</text>
<path d="M44.90,218.90 V366.80 M40.70,362.60 H241.70" stroke="#000" stroke-width="1.5" fill="none"/>
<path d="M40.70,219.40 H44.90 M40.70,239.86 H44.90 M40.70,260.31 H44.90 M40.70,280.77 H44.90 M40.70,301.23 H44.90 M40.70,321.69 H44.90 M40.70,342.14 H44.90 M40.70,362.60 H44.90 M66.70,362.60 V366.80 M88.50,362.60 V366.80 M110.30,362.60 V366.80 M132.10,362.60 V366.80 M153.90,362.60 V366.80 M175.70,362.60 V366.80 M197.50,362.60 V366.80 M219.30,362.60 V366.80 M241.10,362.60 V366.80 " stroke="#000" stroke-width="1.3" fill="none"/>
<text transform="translate(34.00,221.85) scale(1,1.050)" font-size="6.9" font-weight="bold" text-anchor="end" fill="#000" stroke="#000" stroke-width="0.28">2.0<tspan font-size="6.2">&#215;</tspan>10</text>
<text x="35.10" y="218.90" font-size="4.4" font-weight="bold" fill="#000" stroke="#000" stroke-width="0.20">0</text>
<text transform="translate(34.00,242.31) scale(1,1.050)" font-size="6.9" font-weight="bold" text-anchor="end" fill="#000" stroke="#000" stroke-width="0.28">1.0<tspan font-size="6.2">&#215;</tspan>10</text>
<text x="35.10" y="239.36" font-size="4.4" font-weight="bold" fill="#000" stroke="#000" stroke-width="0.20">0</text>
<text transform="translate(34.00,262.76) scale(1,1.050)" font-size="6.9" font-weight="bold" text-anchor="end" fill="#000" stroke="#000" stroke-width="0.28">5.0<tspan font-size="6.2">&#215;</tspan>10</text>
<text x="35.10" y="259.81" font-size="4.4" font-weight="bold" fill="#000" stroke="#000" stroke-width="0.20">-1</text>
<text transform="translate(34.00,283.22) scale(1,1.050)" font-size="6.9" font-weight="bold" text-anchor="end" fill="#000" stroke="#000" stroke-width="0.28">2.5<tspan font-size="6.2">&#215;</tspan>10</text>
<text x="35.10" y="280.27" font-size="4.4" font-weight="bold" fill="#000" stroke="#000" stroke-width="0.20">-1</text>
<text transform="translate(34.00,303.68) scale(1,1.050)" font-size="6.9" font-weight="bold" text-anchor="end" fill="#000" stroke="#000" stroke-width="0.28">1.3<tspan font-size="6.2">&#215;</tspan>10</text>
<text x="35.10" y="300.73" font-size="4.4" font-weight="bold" fill="#000" stroke="#000" stroke-width="0.20">-1</text>
<text transform="translate(34.00,324.14) scale(1,1.050)" font-size="6.9" font-weight="bold" text-anchor="end" fill="#000" stroke="#000" stroke-width="0.28">6.3<tspan font-size="6.2">&#215;</tspan>10</text>
<text x="35.10" y="321.19" font-size="4.4" font-weight="bold" fill="#000" stroke="#000" stroke-width="0.20">-2</text>
<text transform="translate(34.00,344.59) scale(1,1.050)" font-size="6.9" font-weight="bold" text-anchor="end" fill="#000" stroke="#000" stroke-width="0.28">3.1<tspan font-size="6.2">&#215;</tspan>10</text>
<text x="35.10" y="341.64" font-size="4.4" font-weight="bold" fill="#000" stroke="#000" stroke-width="0.20">-2</text>
<text transform="translate(34.00,365.05) scale(1,1.050)" font-size="6.9" font-weight="bold" text-anchor="end" fill="#000" stroke="#000" stroke-width="0.28">1.6<tspan font-size="6.2">&#215;</tspan>10</text>
<text x="35.10" y="362.10" font-size="4.4" font-weight="bold" fill="#000" stroke="#000" stroke-width="0.20">-2</text>
<text transform="translate(44.90,375.20) scale(1,1.100)" font-size="8" font-weight="bold" text-anchor="middle" fill="#000" stroke="#000" stroke-width="0.15">10</text>
<text transform="translate(66.70,375.20) scale(1,1.100)" font-size="8" font-weight="bold" text-anchor="middle" fill="#000" stroke="#000" stroke-width="0.15">9</text>
<text transform="translate(88.50,375.20) scale(1,1.100)" font-size="8" font-weight="bold" text-anchor="middle" fill="#000" stroke="#000" stroke-width="0.15">8</text>
<text transform="translate(110.30,375.20) scale(1,1.100)" font-size="8" font-weight="bold" text-anchor="middle" fill="#000" stroke="#000" stroke-width="0.15">7</text>
<text transform="translate(132.10,375.20) scale(1,1.100)" font-size="8" font-weight="bold" text-anchor="middle" fill="#000" stroke="#000" stroke-width="0.15">6</text>
<text transform="translate(153.90,375.20) scale(1,1.100)" font-size="8" font-weight="bold" text-anchor="middle" fill="#000" stroke="#000" stroke-width="0.15">5</text>
<text transform="translate(175.70,375.20) scale(1,1.100)" font-size="8" font-weight="bold" text-anchor="middle" fill="#000" stroke="#000" stroke-width="0.15">4</text>
<text transform="translate(197.50,375.20) scale(1,1.100)" font-size="8" font-weight="bold" text-anchor="middle" fill="#000" stroke="#000" stroke-width="0.15">3</text>
<text transform="translate(219.30,375.20) scale(1,1.100)" font-size="8" font-weight="bold" text-anchor="middle" fill="#000" stroke="#000" stroke-width="0.15">2</text>
<text transform="translate(241.10,375.20) scale(1,1.100)" font-size="8" font-weight="bold" text-anchor="middle" fill="#000" stroke="#000" stroke-width="0.15">1</text>
<text transform="translate(46.80,222.50) scale(1,1.100)" font-size="7.6" font-weight="bold" text-anchor="middle" fill="#000" stroke="#000" stroke-width="0.15">1</text>
<text transform="translate(53.30,222.50) scale(1,1.100)" font-size="7.6" font-weight="bold" text-anchor="middle" fill="#000" stroke="#000" stroke-width="0.15">2</text>
<text transform="translate(80.00,222.50) scale(1,1.100)" font-size="7.6" font-weight="bold" text-anchor="middle" fill="#000" stroke="#000" stroke-width="0.15">3</text>
<text transform="translate(111.60,222.50) scale(1,1.100)" font-size="7.6" font-weight="bold" text-anchor="middle" fill="#000" stroke="#000" stroke-width="0.15">4</text>
<text transform="translate(145.30,222.50) scale(1,1.100)" font-size="7.6" font-weight="bold" text-anchor="middle" fill="#000" stroke="#000" stroke-width="0.15">5</text>
<text transform="translate(161.50,222.50) scale(1,1.100)" font-size="7.6" font-weight="bold" text-anchor="middle" fill="#000" stroke="#000" stroke-width="0.15">6</text>
<text transform="translate(172.10,222.50) scale(1,1.100)" font-size="7.6" font-weight="bold" text-anchor="middle" fill="#000" stroke="#000" stroke-width="0.15">7</text>
<text transform="translate(188.30,222.50) scale(1,1.100)" font-size="7.6" font-weight="bold" text-anchor="middle" fill="#000" stroke="#000" stroke-width="0.15">8</text>
<text transform="translate(195.20,222.50) scale(1,1.100)" font-size="7.6" font-weight="bold" text-anchor="middle" fill="#000" stroke="#000" stroke-width="0.15">9</text>
<text transform="translate(221.70,222.50) scale(1,1.100)" font-size="7.6" font-weight="bold" text-anchor="middle" fill="#000" stroke="#000" stroke-width="0.15">10</text>
<text x="143.40" y="388.40" font-size="8.8" text-anchor="middle" fill="#000" stroke="#000" stroke-width="0.30">RQI</text>
<text transform="translate(7.90,293.50) rotate(-90)" font-size="8.45" text-anchor="middle" fill="#000" stroke="#000" stroke-width="0.3">qPCR signal</text>
<path d="M44.90,243.34 L45.90,243.25 L46.90,243.17 L47.90,243.09 L48.90,243.02 L49.90,242.96 L50.90,242.91 L51.90,242.87 L52.90,242.83 L53.91,242.79 L54.91,242.77 L55.91,242.75 L56.91,242.73 L57.91,242.73 L58.91,242.72 L59.91,242.73 L60.91,242.74 L61.91,242.76 L62.91,242.78 L63.91,242.81 L64.91,242.84 L65.91,242.88 L66.91,242.93 L67.91,242.98 L68.91,243.03 L69.91,243.10 L70.91,243.16 L71.92,243.24 L72.92,243.31 L73.92,243.40 L74.92,243.49 L75.92,243.58 L76.92,243.68 L77.92,243.78 L78.92,243.89 L79.92,244.01 L80.92,244.12 L81.92,244.25 L82.92,244.38 L83.92,244.51 L84.92,244.65 L85.92,244.80 L86.92,244.95 L87.92,245.10 L88.92,245.26 L89.93,245.42 L90.93,245.59 L91.93,245.77 L92.93,245.94 L93.93,246.13 L94.93,246.32 L95.93,246.51 L96.93,246.71 L97.93,246.91 L98.93,247.12 L99.93,247.33 L100.93,247.55 L101.93,247.77 L102.93,248.00 L103.93,248.23 L104.93,248.47 L105.93,248.71 L106.94,248.96 L107.94,249.21 L108.94,249.47 L109.94,249.73 L110.94,250.00 L111.94,250.27 L112.94,250.54 L113.94,250.83 L114.94,251.11 L115.94,251.41 L116.94,251.70 L117.94,252.00 L118.94,252.31 L119.94,252.62 L120.94,252.94 L121.94,253.26 L122.94,253.59 L123.94,253.92 L124.95,254.26 L125.95,254.61 L126.95,254.95 L127.95,255.31 L128.95,255.67 L129.95,256.03 L130.95,256.40 L131.95,256.77 L132.95,257.15 L133.95,257.54 L134.95,257.93 L135.95,258.33 L136.95,258.73 L137.95,259.14 L138.95,259.55 L139.95,259.97 L140.95,260.39 L141.95,260.82 L142.96,261.25 L143.96,261.69 L144.96,262.14 L145.96,262.59 L146.96,263.04 L147.96,263.50 L148.96,263.97 L149.96,264.44 L150.96,264.92 L151.96,265.40 L152.96,265.89 L153.96,266.38 L154.96,266.88 L155.96,267.38 L156.96,267.89 L157.96,268.40 L158.96,268.92 L159.96,269.44 L160.97,269.97 L161.97,270.50 L162.97,271.04 L163.97,271.58 L164.97,272.13 L165.97,272.67 L166.97,273.23 L167.97,273.78 L168.97,274.34 L169.97,274.90 L170.97,275.47 L171.97,276.04 L172.97,276.61 L173.97,277.18 L174.97,277.75 L175.97,278.33 L176.97,278.90 L177.98,279.47 L178.98,280.05 L179.98,280.62 L180.98,281.20 L181.98,281.77 L182.98,282.33 L183.98,282.90 L184.98,283.46 L185.98,284.01 L186.98,284.56 L187.98,285.11 L188.98,285.64 L189.98,286.17 L190.98,286.69 L191.98,287.20 L192.98,287.69 L193.98,288.18 L194.98,288.65 L195.99,289.10 L196.99,289.54 L197.99,289.97 L198.99,290.37 L199.99,290.76 L200.99,291.12 L201.99,291.46 L202.99,291.78 L203.99,292.07 L204.99,292.34 L205.99,292.58 L206.99,292.79 L207.99,292.98 L208.99,293.13 L209.99,293.25 L210.99,293.34 L211.99,293.40 L212.99,293.42 L214.00,293.41 L215.00,293.37 L216.00,293.29 L217.00,293.18 L218.00,293.03 L219.00,292.85 L220.00,292.63 L221.00,292.38 L222.00,292.10" stroke="#2020bc" stroke-width="1.5" fill="none" stroke-dasharray="3.6 2.2"/>
<path d="M44.90,243.81 L45.90,243.77 L46.91,243.73 L47.91,243.70 L48.92,243.67 L49.92,243.66 L50.93,243.64 L51.93,243.64 L52.94,243.64 L53.94,243.64 L54.95,243.66 L55.95,243.67 L56.95,243.70 L57.96,243.73 L58.96,243.76 L59.97,243.80 L60.97,243.84 L61.98,243.90 L62.98,243.95 L63.99,244.01 L64.99,244.08 L66.00,244.15 L67.00,244.23 L68.00,244.31 L69.01,244.40 L70.01,244.49 L71.02,244.59 L72.02,244.69 L73.03,244.80 L74.03,244.91 L75.04,245.03 L76.04,245.15 L77.05,245.28 L78.05,245.41 L79.05,245.55 L80.06,245.69 L81.06,245.84 L82.07,245.99 L83.07,246.15 L84.08,246.31 L85.08,246.47 L86.09,246.65 L87.09,246.82 L88.10,247.00 L89.10,247.19 L90.10,247.38 L91.11,247.58 L92.11,247.78 L93.12,247.98 L94.12,248.19 L95.13,248.41 L96.13,248.63 L97.14,248.85 L98.14,249.08 L99.15,249.32 L100.15,249.56 L101.15,249.80 L102.16,250.05 L103.16,250.31 L104.17,250.57 L105.17,250.83 L106.18,251.10 L107.18,251.37 L108.19,251.65 L109.19,251.94 L110.20,252.23 L111.20,252.53 L112.20,252.83 L113.21,253.13 L114.21,253.44 L115.22,253.76 L116.22,254.08 L117.23,254.41 L118.23,254.74 L119.24,255.08 L120.24,255.42 L121.25,255.77 L122.25,256.12 L123.25,256.48 L124.26,256.85 L125.26,257.22 L126.27,257.60 L127.27,257.98 L128.28,258.37 L129.28,258.76 L130.29,259.16 L131.29,259.57 L132.30,259.98 L133.30,260.40 L134.30,260.82 L135.31,261.25 L136.31,261.69 L137.32,262.13 L138.32,262.58 L139.33,263.03 L140.33,263.49 L141.34,263.96 L142.34,264.44 L143.35,264.92 L144.35,265.40 L145.35,265.89 L146.36,266.39 L147.36,266.90 L148.37,267.41 L149.37,267.93 L150.38,268.46 L151.38,268.99 L152.39,269.53 L153.39,270.07 L154.40,270.63 L155.40,271.18 L156.40,271.75 L157.41,272.32 L158.41,272.90 L159.42,273.49 L160.42,274.08 L161.43,274.68 L162.43,275.28 L163.44,275.89 L164.44,276.51 L165.45,277.13 L166.45,277.76 L167.45,278.40 L168.46,279.04 L169.46,279.68 L170.47,280.34 L171.47,280.99 L172.48,281.66 L173.48,282.32 L174.49,282.99 L175.49,283.67 L176.50,284.35 L177.50,285.03 L178.50,285.71 L179.51,286.40 L180.51,287.09 L181.52,287.78 L182.52,288.47 L183.53,289.16 L184.53,289.85 L185.54,290.54 L186.54,291.22 L187.55,291.90 L188.55,292.58 L189.55,293.25 L190.56,293.91 L191.56,294.57 L192.57,295.21 L193.57,295.85 L194.58,296.47 L195.58,297.08 L196.59,297.68 L197.59,298.25 L198.60,298.81 L199.60,299.35 L200.60,299.86 L201.61,300.35 L202.61,300.82 L203.62,301.25 L204.62,301.66 L205.63,302.03 L206.63,302.37 L207.64,302.68 L208.64,302.94 L209.65,303.17 L210.65,303.36 L211.65,303.51 L212.66,303.61 L213.66,303.67 L214.67,303.69 L215.67,303.66 L216.68,303.58 L217.68,303.46 L218.69,303.29 L219.69,303.08 L220.70,302.82 L221.70,302.52" stroke="#2020bc" stroke-width="1.5" fill="none"/>
<path d="M44.90,244.42 L45.90,244.35 L46.91,244.28 L47.91,244.23 L48.92,244.18 L49.92,244.14 L50.93,244.11 L51.93,244.08 L52.94,244.06 L53.94,244.05 L54.95,244.05 L55.95,244.05 L56.95,244.06 L57.96,244.08 L58.96,244.10 L59.97,244.13 L60.97,244.17 L61.98,244.21 L62.98,244.26 L63.99,244.32 L64.99,244.38 L66.00,244.45 L67.00,244.52 L68.00,244.60 L69.01,244.69 L70.01,244.79 L71.02,244.89 L72.02,244.99 L73.03,245.10 L74.03,245.22 L75.04,245.34 L76.04,245.47 L77.05,245.61 L78.05,245.75 L79.05,245.90 L80.06,246.05 L81.06,246.21 L82.07,246.38 L83.07,246.55 L84.08,246.72 L85.08,246.91 L86.09,247.10 L87.09,247.29 L88.10,247.49 L89.10,247.70 L90.10,247.91 L91.11,248.13 L92.11,248.35 L93.12,248.58 L94.12,248.82 L95.13,249.06 L96.13,249.31 L97.14,249.56 L98.14,249.82 L99.15,250.09 L100.15,250.36 L101.15,250.64 L102.16,250.92 L103.16,251.21 L104.17,251.51 L105.17,251.81 L106.18,252.13 L107.18,252.44 L108.19,252.76 L109.19,253.09 L110.20,253.43 L111.20,253.77 L112.20,254.12 L113.21,254.48 L114.21,254.84 L115.22,255.21 L116.22,255.59 L117.23,255.97 L118.23,256.37 L119.24,256.76 L120.24,257.17 L121.25,257.58 L122.25,258.01 L123.25,258.43 L124.26,258.87 L125.26,259.31 L126.27,259.77 L127.27,260.23 L128.28,260.69 L129.28,261.17 L130.29,261.65 L131.29,262.15 L132.30,262.65 L133.30,263.16 L134.30,263.68 L135.31,264.21 L136.31,264.74 L137.32,265.29 L138.32,265.85 L139.33,266.41 L140.33,266.99 L141.34,267.57 L142.34,268.17 L143.35,268.77 L144.35,269.39 L145.35,270.01 L146.36,270.65 L147.36,271.30 L148.37,271.96 L149.37,272.63 L150.38,273.31 L151.38,274.00 L152.39,274.71 L153.39,275.42 L154.40,276.15 L155.40,276.89 L156.40,277.65 L157.41,278.41 L158.41,279.19 L159.42,279.99 L160.42,280.80 L161.43,281.62 L162.43,282.45 L163.44,283.30 L164.44,284.16 L165.45,285.04 L166.45,285.93 L167.45,286.84 L168.46,287.76 L169.46,288.70 L170.47,289.65 L171.47,290.62 L172.48,291.60 L173.48,292.59 L174.49,293.61 L175.49,294.63 L176.50,295.68 L177.50,296.73 L178.50,297.80 L179.51,298.89 L180.51,299.98 L181.52,301.09 L182.52,302.21 L183.53,303.34 L184.53,304.48 L185.54,305.63 L186.54,306.79 L187.55,307.95 L188.55,309.11 L189.55,310.27 L190.56,311.43 L191.56,312.59 L192.57,313.73 L193.57,314.86 L194.58,315.97 L195.58,317.06 L196.59,318.12 L197.59,319.15 L198.60,320.13 L199.60,321.07 L200.60,321.96 L201.61,322.78 L202.61,323.53 L203.62,324.21 L204.62,324.81 L205.63,325.31 L206.63,325.72 L207.64,326.03 L208.64,326.23 L209.65,326.32 L210.65,326.30 L211.65,326.16 L212.66,325.91 L213.66,325.55 L214.67,325.07 L215.67,324.49 L216.68,323.81 L217.68,323.04 L218.69,322.17 L219.69,321.23 L220.70,320.21 L221.70,319.12" stroke="#2020bc" stroke-width="1.5" fill="none" stroke-dasharray="3.6 2.2"/>
<path d="M44.90,243.90 L45.90,243.82 L46.91,243.75 L47.91,243.69 L48.92,243.65 L49.92,243.61 L50.93,243.59 L51.93,243.58 L52.94,243.58 L53.94,243.59 L54.95,243.61 L55.95,243.64 L56.95,243.68 L57.96,243.73 L58.96,243.79 L59.97,243.86 L60.97,243.94 L61.98,244.03 L62.98,244.13 L63.99,244.24 L64.99,244.36 L66.00,244.48 L67.00,244.62 L68.00,244.76 L69.01,244.91 L70.01,245.07 L71.02,245.23 L72.02,245.41 L73.03,245.59 L74.03,245.79 L75.04,245.99 L76.04,246.19 L77.05,246.41 L78.05,246.63 L79.05,246.87 L80.06,247.10 L81.06,247.35 L82.07,247.61 L83.07,247.87 L84.08,248.14 L85.08,248.42 L86.09,248.70 L87.09,249.00 L88.10,249.30 L89.10,249.61 L90.10,249.92 L91.11,250.24 L92.11,250.58 L93.12,250.92 L94.12,251.26 L95.13,251.62 L96.13,251.98 L97.14,252.35 L98.14,252.73 L99.15,253.11 L100.15,253.50 L101.15,253.90 L102.16,254.31 L103.16,254.73 L104.17,255.15 L105.17,255.59 L106.18,256.03 L107.18,256.48 L108.19,256.93 L109.19,257.40 L110.20,257.87 L111.20,258.36 L112.20,258.85 L113.21,259.34 L114.21,259.85 L115.22,260.37 L116.22,260.89 L117.23,261.43 L118.23,261.97 L119.24,262.52 L120.24,263.09 L121.25,263.66 L122.25,264.24 L123.25,264.83 L124.26,265.43 L125.26,266.04 L126.27,266.66 L127.27,267.28 L128.28,267.92 L129.28,268.57 L130.29,269.24 L131.29,269.91 L132.30,270.59 L133.30,271.28 L134.30,271.99 L135.31,272.70 L136.31,273.43 L137.32,274.17 L138.32,274.92 L139.33,275.68 L140.33,276.46 L141.34,277.25 L142.34,278.05 L143.35,278.86 L144.35,279.69 L145.35,280.53 L146.36,281.39 L147.36,282.26 L148.37,283.14 L149.37,284.04 L150.38,284.95 L151.38,285.88 L152.39,286.83 L153.39,287.79 L154.40,288.76 L155.40,289.76 L156.40,290.77 L157.41,291.79 L158.41,292.84 L159.42,293.90 L160.42,294.98 L161.43,296.08 L162.43,297.20 L163.44,298.34 L164.44,299.50 L165.45,300.68 L166.45,301.88 L167.45,303.10 L168.46,304.34 L169.46,305.60 L170.47,306.89 L171.47,308.19 L172.48,309.52 L173.48,310.87 L174.49,312.25 L175.49,313.64 L176.50,315.06 L177.50,316.50 L178.50,317.97 L179.51,319.45 L180.51,320.95 L181.52,322.48 L182.52,324.02 L183.53,325.59 L184.53,327.16 L185.54,328.76 L186.54,330.36 L187.55,331.97 L188.55,333.59 L189.55,335.21 L190.56,336.83 L191.56,338.43 L192.57,340.02 L193.57,341.59 L194.58,343.13 L195.58,344.63 L196.59,346.07 L197.59,347.46 L198.60,348.78 L199.60,350.01 L200.60,351.14 L201.61,352.17 L202.61,353.08 L203.62,353.85 L204.62,354.49 L205.63,354.97 L206.63,355.31 L207.64,355.48 L208.64,355.50 L209.65,355.36 L210.65,355.06 L211.65,354.62 L212.66,354.05 L213.66,353.35 L214.67,352.53 L215.67,351.61 L216.68,350.60 L217.68,349.51 L218.69,348.35 L219.69,347.14 L220.70,345.88 L221.70,344.59" stroke="#2020bc" stroke-width="1.5" fill="none"/>
<polygon points="77.50,242.90 75.50,246.40 79.50,246.40" fill="#fff" stroke="#2020bc" stroke-width="1.05" stroke-linejoin="miter"/>
<polygon points="145.00,268.80 143.00,272.30 147.00,272.30" fill="#fff" stroke="#2020bc" stroke-width="1.05" stroke-linejoin="miter"/>
<polygon points="172.00,273.40 170.00,276.90 174.00,276.90" fill="#fff" stroke="#2020bc" stroke-width="1.05" stroke-linejoin="miter"/>
<polygon points="187.00,280.20 185.00,283.70 189.00,283.70" fill="#fff" stroke="#2020bc" stroke-width="1.05" stroke-linejoin="miter"/>
<polygon points="192.30,285.30 190.30,288.80 194.30,288.80" fill="#fff" stroke="#2020bc" stroke-width="1.05" stroke-linejoin="miter"/>
<polygon points="222.40,291.00 220.40,294.50 224.40,294.50" fill="#fff" stroke="#2020bc" stroke-width="1.05" stroke-linejoin="miter"/>
<rect x="47.20" y="245.70" width="3.80" height="3.80" fill="#2020bc"/>
<rect x="75.60" y="244.10" width="3.80" height="3.80" fill="#2020bc"/>
<rect x="108.30" y="246.90" width="3.80" height="3.80" fill="#2020bc"/>
<rect x="143.10" y="270.50" width="3.80" height="3.80" fill="#2020bc"/>
<rect x="159.10" y="269.00" width="3.80" height="3.80" fill="#2020bc"/>
<rect x="170.10" y="276.70" width="3.80" height="3.80" fill="#2020bc"/>
<rect x="185.10" y="290.50" width="3.80" height="3.80" fill="#2020bc"/>
<rect x="189.70" y="295.10" width="3.80" height="3.80" fill="#2020bc"/>
<rect x="220.30" y="299.20" width="3.80" height="3.80" fill="#2020bc"/>
<rect x="75.65" y="244.65" width="3.70" height="3.70" fill="#fff" stroke="#2020bc" stroke-width="1.1"/>
<rect x="143.15" y="278.95" width="3.70" height="3.70" fill="#fff" stroke="#2020bc" stroke-width="1.1"/>
<rect x="158.15" y="282.95" width="3.70" height="3.70" fill="#fff" stroke="#2020bc" stroke-width="1.1"/>
<rect x="169.15" y="286.05" width="3.70" height="3.70" fill="#fff" stroke="#2020bc" stroke-width="1.1"/>
<rect x="184.35" y="303.65" width="3.70" height="3.70" fill="#fff" stroke="#2020bc" stroke-width="1.1"/>
<rect x="189.75" y="308.95" width="3.70" height="3.70" fill="#fff" stroke="#2020bc" stroke-width="1.1"/>
<rect x="219.65" y="316.35" width="3.70" height="3.70" fill="#fff" stroke="#2020bc" stroke-width="1.1"/>
<polygon points="49.00,252.60 46.70,256.60 51.30,256.60" fill="#2020bc"/>
<polygon points="77.50,243.60 75.20,247.60 79.80,247.60" fill="#2020bc"/>
<polygon points="110.20,254.40 107.90,258.40 112.50,258.40" fill="#2020bc"/>
<polygon points="145.00,285.50 142.70,289.50 147.30,289.50" fill="#2020bc"/>
<polygon points="161.00,295.70 158.70,299.70 163.30,299.70" fill="#2020bc"/>
<polygon points="171.00,296.30 168.70,300.30 173.30,300.30" fill="#2020bc"/>
<polygon points="186.50,320.40 184.20,324.40 188.80,324.40" fill="#2020bc"/>
<polygon points="191.00,335.80 188.70,339.80 193.30,339.80" fill="#2020bc"/>
<polygon points="221.50,351.20 219.20,355.20 223.80,355.20" fill="#2020bc"/>
<circle cx="44.40" cy="239.70" r="2.9" fill="#2020bc"/>
<rect x="108.30" y="247.40" width="3.80" height="3.80" fill="#2020bc"/>
<polygon points="110.40,242.84 107.50,248.44 113.30,248.44" fill="#2020bc"/>
<polygon points="146.60,252.00 147.26,253.59 148.98,253.73 147.67,254.85 148.07,256.52 146.60,255.62 145.13,256.52 145.53,254.85 144.22,253.73 145.94,253.59" fill="#111"/>
<text x="161.60" y="264.10" font-size="10" font-weight="bold" text-anchor="middle" fill="#111">#</text>
<polygon points="168.80,261.70 169.46,263.29 171.18,263.43 169.87,264.55 170.27,266.22 168.80,265.32 167.33,266.22 167.73,264.55 166.42,263.43 168.14,263.29" fill="#111"/><polygon points="173.20,261.70 173.86,263.29 175.58,263.43 174.27,264.55 174.67,266.22 173.20,265.32 171.73,266.22 172.13,264.55 170.82,263.43 172.54,263.29" fill="#111"/>
<polygon points="183.70,270.30 184.36,271.89 186.08,272.03 184.77,273.15 185.17,274.82 183.70,273.93 182.23,274.82 182.63,273.15 181.32,272.03 183.04,271.89" fill="#111"/><polygon points="188.10,270.30 188.76,271.89 190.48,272.03 189.17,273.15 189.57,274.82 188.10,273.93 186.63,274.82 187.03,273.15 185.72,272.03 187.44,271.89" fill="#111"/>
<polygon points="192.90,275.00 193.56,276.59 195.28,276.73 193.97,277.85 194.37,279.52 192.90,278.62 191.43,279.52 191.83,277.85 190.52,276.73 192.24,276.59" fill="#111"/><polygon points="197.30,275.00 197.96,276.59 199.68,276.73 198.37,277.85 198.77,279.52 197.30,278.62 195.83,279.52 196.23,277.85 194.92,276.73 196.64,276.59" fill="#111"/>
<polygon points="220.30,280.10 220.96,281.69 222.68,281.83 221.37,282.95 221.77,284.62 220.30,283.73 218.83,284.62 219.23,282.95 217.92,281.83 219.64,281.69" fill="#111"/><polygon points="224.70,280.10 225.36,281.69 227.08,281.83 225.77,282.95 226.17,284.62 224.70,283.73 223.23,284.62 223.63,282.95 222.32,281.83 224.04,281.69" fill="#111"/>
<text x="229.30" y="293.30" font-size="7" fill="#000" stroke="#000" stroke-width="0.35">60 bp</text>
<text x="229.30" y="304.10" font-size="7" fill="#000" stroke="#000" stroke-width="0.35">94 bp</text>
<text x="229.30" y="321.80" font-size="7" fill="#000" stroke="#000" stroke-width="0.35">197 bp</text>
<text x="229.30" y="352.10" font-size="7" fill="#000" stroke="#000" stroke-width="0.35">404 bp</text>
<text transform="translate(403.30,207.70) scale(1,1.100)" font-size="9.3" font-weight="bold" text-anchor="middle" fill="#000" stroke="#000" stroke-width="0.15">Foxp3</text>
<path d="M313.20,218.90 V366.80 M309.00,362.60 H510.70" stroke="#000" stroke-width="1.5" fill="none"/>
<path d="M309.00,219.40 H313.20 M309.00,237.30 H313.20 M309.00,255.20 H313.20 M309.00,273.10 H313.20 M309.00,291.00 H313.20 M309.00,308.90 H313.20 M309.00,326.80 H313.20 M309.00,344.70 H313.20 M309.00,362.60 H313.20 M335.70,362.60 V366.80 M357.50,362.60 V366.80 M379.30,362.60 V366.80 M401.10,362.60 V366.80 M422.90,362.60 V366.80 M444.70,362.60 V366.80 M466.50,362.60 V366.80 M488.30,362.60 V366.80 M510.10,362.60 V366.80 " stroke="#000" stroke-width="1.3" fill="none"/>
<text transform="translate(302.30,221.85) scale(1,1.050)" font-size="6.9" font-weight="bold" text-anchor="end" fill="#000" stroke="#000" stroke-width="0.28">2.0<tspan font-size="6.2">&#215;</tspan>10</text>
<text x="303.40" y="218.90" font-size="4.4" font-weight="bold" fill="#000" stroke="#000" stroke-width="0.20">0</text>
<text transform="translate(302.30,239.75) scale(1,1.050)" font-size="6.9" font-weight="bold" text-anchor="end" fill="#000" stroke="#000" stroke-width="0.28">1.0<tspan font-size="6.2">&#215;</tspan>10</text>
<text x="303.40" y="236.80" font-size="4.4" font-weight="bold" fill="#000" stroke="#000" stroke-width="0.20">0</text>
<text transform="translate(302.30,257.65) scale(1,1.050)" font-size="6.9" font-weight="bold" text-anchor="end" fill="#000" stroke="#000" stroke-width="0.28">5.0<tspan font-size="6.2">&#215;</tspan>10</text>
<text x="303.40" y="254.70" font-size="4.4" font-weight="bold" fill="#000" stroke="#000" stroke-width="0.20">-1</text>
<text transform="translate(302.30,275.55) scale(1,1.050)" font-size="6.9" font-weight="bold" text-anchor="end" fill="#000" stroke="#000" stroke-width="0.28">2.5<tspan font-size="6.2">&#215;</tspan>10</text>
<text x="303.40" y="272.60" font-size="4.4" font-weight="bold" fill="#000" stroke="#000" stroke-width="0.20">-1</text>
<text transform="translate(302.30,293.45) scale(1,1.050)" font-size="6.9" font-weight="bold" text-anchor="end" fill="#000" stroke="#000" stroke-width="0.28">1.3<tspan font-size="6.2">&#215;</tspan>10</text>
<text x="303.40" y="290.50" font-size="4.4" font-weight="bold" fill="#000" stroke="#000" stroke-width="0.20">-1</text>
<text transform="translate(302.30,311.35) scale(1,1.050)" font-size="6.9" font-weight="bold" text-anchor="end" fill="#000" stroke="#000" stroke-width="0.28">6.3<tspan font-size="6.2">&#215;</tspan>10</text>
<text x="303.40" y="308.40" font-size="4.4" font-weight="bold" fill="#000" stroke="#000" stroke-width="0.20">-2</text>
<text transform="translate(302.30,329.25) scale(1,1.050)" font-size="6.9" font-weight="bold" text-anchor="end" fill="#000" stroke="#000" stroke-width="0.28">3.1<tspan font-size="6.2">&#215;</tspan>10</text>
<text x="303.40" y="326.30" font-size="4.4" font-weight="bold" fill="#000" stroke="#000" stroke-width="0.20">-2</text>
<text transform="translate(302.30,347.15) scale(1,1.050)" font-size="6.9" font-weight="bold" text-anchor="end" fill="#000" stroke="#000" stroke-width="0.28">1.6<tspan font-size="6.2">&#215;</tspan>10</text>
<text x="303.40" y="344.20" font-size="4.4" font-weight="bold" fill="#000" stroke="#000" stroke-width="0.20">-2</text>
<text transform="translate(302.30,365.05) scale(1,1.050)" font-size="6.9" font-weight="bold" text-anchor="end" fill="#000" stroke="#000" stroke-width="0.28">7.8<tspan font-size="6.2">&#215;</tspan>10</text>
<text x="303.40" y="362.10" font-size="4.4" font-weight="bold" fill="#000" stroke="#000" stroke-width="0.20">-3</text>
<text transform="translate(313.90,375.20) scale(1,1.100)" font-size="8" font-weight="bold" text-anchor="middle" fill="#000" stroke="#000" stroke-width="0.15">10</text>
<text transform="translate(335.70,375.20) scale(1,1.100)" font-size="8" font-weight="bold" text-anchor="middle" fill="#000" stroke="#000" stroke-width="0.15">9</text>
<text transform="translate(357.50,375.20) scale(1,1.100)" font-size="8" font-weight="bold" text-anchor="middle" fill="#000" stroke="#000" stroke-width="0.15">8</text>
<text transform="translate(379.30,375.20) scale(1,1.100)" font-size="8" font-weight="bold" text-anchor="middle" fill="#000" stroke="#000" stroke-width="0.15">7</text>
<text transform="translate(401.10,375.20) scale(1,1.100)" font-size="8" font-weight="bold" text-anchor="middle" fill="#000" stroke="#000" stroke-width="0.15">6</text>
<text transform="translate(422.90,375.20) scale(1,1.100)" font-size="8" font-weight="bold" text-anchor="middle" fill="#000" stroke="#000" stroke-width="0.15">5</text>
<text transform="translate(444.70,375.20) scale(1,1.100)" font-size="8" font-weight="bold" text-anchor="middle" fill="#000" stroke="#000" stroke-width="0.15">4</text>
<text transform="translate(466.50,375.20) scale(1,1.100)" font-size="8" font-weight="bold" text-anchor="middle" fill="#000" stroke="#000" stroke-width="0.15">3</text>
<text transform="translate(488.30,375.20) scale(1,1.100)" font-size="8" font-weight="bold" text-anchor="middle" fill="#000" stroke="#000" stroke-width="0.15">2</text>
<text transform="translate(510.10,375.20) scale(1,1.100)" font-size="8" font-weight="bold" text-anchor="middle" fill="#000" stroke="#000" stroke-width="0.15">1</text>
<text transform="translate(315.80,222.50) scale(1,1.100)" font-size="7.6" font-weight="bold" text-anchor="middle" fill="#000" stroke="#000" stroke-width="0.15">1</text>
<text transform="translate(322.30,222.50) scale(1,1.100)" font-size="7.6" font-weight="bold" text-anchor="middle" fill="#000" stroke="#000" stroke-width="0.15">2</text>
<text transform="translate(349.00,222.50) scale(1,1.100)" font-size="7.6" font-weight="bold" text-anchor="middle" fill="#000" stroke="#000" stroke-width="0.15">3</text>
<text transform="translate(380.60,222.50) scale(1,1.100)" font-size="7.6" font-weight="bold" text-anchor="middle" fill="#000" stroke="#000" stroke-width="0.15">4</text>
<text transform="translate(414.30,222.50) scale(1,1.100)" font-size="7.6" font-weight="bold" text-anchor="middle" fill="#000" stroke="#000" stroke-width="0.15">5</text>
<text transform="translate(430.50,222.50) scale(1,1.100)" font-size="7.6" font-weight="bold" text-anchor="middle" fill="#000" stroke="#000" stroke-width="0.15">6</text>
<text transform="translate(441.10,222.50) scale(1,1.100)" font-size="7.6" font-weight="bold" text-anchor="middle" fill="#000" stroke="#000" stroke-width="0.15">7</text>
<text transform="translate(457.30,222.50) scale(1,1.100)" font-size="7.6" font-weight="bold" text-anchor="middle" fill="#000" stroke="#000" stroke-width="0.15">8</text>
<text transform="translate(464.20,222.50) scale(1,1.100)" font-size="7.6" font-weight="bold" text-anchor="middle" fill="#000" stroke="#000" stroke-width="0.15">9</text>
<text transform="translate(490.70,222.50) scale(1,1.100)" font-size="7.6" font-weight="bold" text-anchor="middle" fill="#000" stroke="#000" stroke-width="0.15">10</text>
<text x="411.70" y="388.40" font-size="8.8" text-anchor="middle" fill="#000" stroke="#000" stroke-width="0.30">RQI</text>
<text transform="translate(276.20,292.90) rotate(-90)" font-size="8.45" text-anchor="middle" fill="#000" stroke="#000" stroke-width="0.3">qPCR signal</text>
<path d="M313.20,238.36 L314.20,238.45 L315.21,238.53 L316.21,238.62 L317.22,238.71 L318.22,238.80 L319.23,238.89 L320.23,238.99 L321.24,239.09 L322.24,239.19 L323.24,239.29 L324.25,239.39 L325.25,239.50 L326.26,239.61 L327.26,239.72 L328.27,239.83 L329.27,239.94 L330.28,240.06 L331.28,240.18 L332.29,240.30 L333.29,240.42 L334.29,240.54 L335.30,240.67 L336.30,240.80 L337.31,240.93 L338.31,241.06 L339.32,241.19 L340.32,241.33 L341.33,241.47 L342.33,241.61 L343.33,241.75 L344.34,241.90 L345.34,242.04 L346.35,242.19 L347.35,242.34 L348.36,242.49 L349.36,242.65 L350.37,242.80 L351.37,242.96 L352.38,243.12 L353.38,243.29 L354.38,243.45 L355.39,243.62 L356.39,243.79 L357.40,243.96 L358.40,244.13 L359.41,244.30 L360.41,244.48 L361.42,244.66 L362.42,244.84 L363.42,245.02 L364.43,245.21 L365.43,245.39 L366.44,245.58 L367.44,245.77 L368.45,245.96 L369.45,246.16 L370.46,246.36 L371.46,246.55 L372.47,246.76 L373.47,246.96 L374.47,247.16 L375.48,247.37 L376.48,247.58 L377.49,247.79 L378.49,248.00 L379.50,248.22 L380.50,248.44 L381.51,248.65 L382.51,248.88 L383.51,249.10 L384.52,249.32 L385.52,249.55 L386.53,249.78 L387.53,250.01 L388.54,250.24 L389.54,250.48 L390.55,250.72 L391.55,250.95 L392.56,251.19 L393.56,251.44 L394.56,251.68 L395.57,251.93 L396.57,252.18 L397.58,252.43 L398.58,252.68 L399.59,252.94 L400.59,253.19 L401.60,253.45 L402.60,253.71 L403.60,253.97 L404.61,254.23 L405.61,254.50 L406.62,254.77 L407.62,255.04 L408.63,255.31 L409.63,255.58 L410.64,255.85 L411.64,256.13 L412.64,256.41 L413.65,256.68 L414.65,256.97 L415.66,257.25 L416.66,257.53 L417.67,257.82 L418.67,258.10 L419.68,258.39 L420.68,258.68 L421.69,258.97 L422.69,259.26 L423.69,259.55 L424.70,259.85 L425.70,260.14 L426.71,260.44 L427.71,260.73 L428.72,261.03 L429.72,261.33 L430.73,261.63 L431.73,261.93 L432.73,262.23 L433.74,262.53 L434.74,262.83 L435.75,263.13 L436.75,263.43 L437.76,263.73 L438.76,264.03 L439.77,264.33 L440.77,264.63 L441.78,264.93 L442.78,265.23 L443.78,265.53 L444.79,265.83 L445.79,266.12 L446.80,266.42 L447.80,266.71 L448.81,267.01 L449.81,267.30 L450.82,267.59 L451.82,267.88 L452.82,268.16 L453.83,268.45 L454.83,268.73 L455.84,269.00 L456.84,269.28 L457.85,269.55 L458.85,269.82 L459.86,270.09 L460.86,270.35 L461.87,270.60 L462.87,270.86 L463.87,271.10 L464.88,271.35 L465.88,271.59 L466.89,271.82 L467.89,272.05 L468.90,272.27 L469.90,272.48 L470.91,272.69 L471.91,272.90 L472.91,273.09 L473.92,273.28 L474.92,273.46 L475.93,273.64 L476.93,273.80 L477.94,273.96 L478.94,274.11 L479.95,274.25 L480.95,274.38 L481.96,274.50 L482.96,274.61 L483.96,274.72 L484.97,274.81 L485.97,274.89 L486.98,274.96 L487.98,275.03 L488.99,275.08 L489.99,275.12 L491.00,275.15 L492.00,275.16" stroke="#1e1c96" stroke-width="1.5" fill="none" stroke-dasharray="3.6 2.2"/>
<path d="M313.20,238.59 L314.21,238.78 L315.21,238.97 L316.22,239.16 L317.22,239.36 L318.23,239.55 L319.23,239.75 L320.24,239.94 L321.24,240.14 L322.25,240.34 L323.25,240.54 L324.26,240.74 L325.26,240.94 L326.27,241.14 L327.27,241.34 L328.28,241.55 L329.28,241.75 L330.29,241.96 L331.29,242.16 L332.30,242.37 L333.30,242.58 L334.31,242.79 L335.31,243.00 L336.32,243.21 L337.32,243.42 L338.33,243.64 L339.33,243.85 L340.34,244.06 L341.34,244.28 L342.35,244.50 L343.35,244.72 L344.36,244.93 L345.36,245.15 L346.37,245.38 L347.37,245.60 L348.38,245.82 L349.38,246.04 L350.39,246.27 L351.39,246.49 L352.40,246.72 L353.40,246.95 L354.41,247.18 L355.41,247.41 L356.42,247.64 L357.43,247.87 L358.43,248.10 L359.44,248.34 L360.44,248.57 L361.45,248.81 L362.45,249.04 L363.46,249.28 L364.46,249.52 L365.47,249.76 L366.47,250.00 L367.48,250.24 L368.48,250.49 L369.49,250.73 L370.49,250.98 L371.50,251.22 L372.50,251.47 L373.51,251.72 L374.51,251.97 L375.52,252.22 L376.52,252.47 L377.53,252.72 L378.53,252.97 L379.54,253.23 L380.54,253.48 L381.55,253.74 L382.55,254.00 L383.56,254.26 L384.56,254.52 L385.57,254.78 L386.57,255.04 L387.58,255.30 L388.58,255.56 L389.59,255.83 L390.59,256.09 L391.60,256.36 L392.60,256.62 L393.61,256.89 L394.61,257.16 L395.62,257.43 L396.62,257.70 L397.63,257.97 L398.63,258.25 L399.64,258.52 L400.64,258.79 L401.65,259.07 L402.66,259.34 L403.66,259.62 L404.67,259.90 L405.67,260.17 L406.68,260.45 L407.68,260.73 L408.69,261.01 L409.69,261.29 L410.70,261.58 L411.70,261.86 L412.71,262.14 L413.71,262.42 L414.72,262.71 L415.72,262.99 L416.73,263.28 L417.73,263.56 L418.74,263.85 L419.74,264.14 L420.75,264.42 L421.75,264.71 L422.76,265.00 L423.76,265.28 L424.77,265.57 L425.77,265.86 L426.78,266.15 L427.78,266.44 L428.79,266.73 L429.79,267.01 L430.80,267.30 L431.80,267.59 L432.81,267.88 L433.81,268.17 L434.82,268.45 L435.82,268.74 L436.83,269.03 L437.83,269.31 L438.84,269.60 L439.84,269.88 L440.85,270.17 L441.85,270.45 L442.86,270.74 L443.86,271.02 L444.87,271.30 L445.88,271.58 L446.88,271.86 L447.89,272.13 L448.89,272.41 L449.90,272.69 L450.90,272.96 L451.91,273.23 L452.91,273.50 L453.92,273.77 L454.92,274.03 L455.93,274.30 L456.93,274.56 L457.94,274.82 L458.94,275.08 L459.95,275.33 L460.95,275.58 L461.96,275.83 L462.96,276.08 L463.97,276.32 L464.97,276.56 L465.98,276.80 L466.98,277.03 L467.99,277.26 L468.99,277.49 L470.00,277.71 L471.00,277.93 L472.01,278.15 L473.01,278.36 L474.02,278.56 L475.02,278.77 L476.03,278.96 L477.03,279.16 L478.04,279.34 L479.04,279.53 L480.05,279.70 L481.05,279.87 L482.06,280.04 L483.06,280.20 L484.07,280.36 L485.07,280.51 L486.08,280.65 L487.08,280.79 L488.09,280.92 L489.09,281.04 L490.10,281.16" stroke="#1e1c96" stroke-width="1.5" fill="none"/>
<path d="M313.20,239.93 L314.21,240.06 L315.21,240.20 L316.22,240.33 L317.22,240.47 L318.23,240.61 L319.23,240.75 L320.24,240.89 L321.24,241.04 L322.25,241.18 L323.25,241.33 L324.26,241.49 L325.26,241.64 L326.27,241.80 L327.27,241.96 L328.28,242.12 L329.28,242.28 L330.29,242.45 L331.29,242.62 L332.30,242.79 L333.30,242.96 L334.31,243.14 L335.31,243.32 L336.32,243.50 L337.32,243.68 L338.33,243.87 L339.33,244.06 L340.34,244.25 L341.34,244.44 L342.35,244.64 L343.35,244.83 L344.36,245.03 L345.36,245.24 L346.37,245.44 L347.37,245.65 L348.38,245.86 L349.38,246.08 L350.39,246.29 L351.39,246.51 L352.40,246.73 L353.40,246.95 L354.41,247.18 L355.41,247.41 L356.42,247.64 L357.43,247.88 L358.43,248.11 L359.44,248.35 L360.44,248.60 L361.45,248.84 L362.45,249.09 L363.46,249.34 L364.46,249.60 L365.47,249.85 L366.47,250.11 L367.48,250.38 L368.48,250.64 L369.49,250.91 L370.49,251.18 L371.50,251.46 L372.50,251.74 L373.51,252.02 L374.51,252.30 L375.52,252.59 L376.52,252.88 L377.53,253.17 L378.53,253.47 L379.54,253.77 L380.54,254.07 L381.55,254.38 L382.55,254.69 L383.56,255.00 L384.56,255.32 L385.57,255.64 L386.57,255.97 L387.58,256.29 L388.58,256.62 L389.59,256.96 L390.59,257.30 L391.60,257.64 L392.60,257.98 L393.61,258.33 L394.61,258.68 L395.62,259.04 L396.62,259.40 L397.63,259.77 L398.63,260.13 L399.64,260.50 L400.64,260.88 L401.65,261.26 L402.66,261.64 L403.66,262.03 L404.67,262.42 L405.67,262.82 L406.68,263.22 L407.68,263.62 L408.69,264.03 L409.69,264.44 L410.70,264.86 L411.70,265.28 L412.71,265.70 L413.71,266.13 L414.72,266.57 L415.72,267.01 L416.73,267.45 L417.73,267.90 L418.74,268.35 L419.74,268.80 L420.75,269.26 L421.75,269.73 L422.76,270.20 L423.76,270.67 L424.77,271.15 L425.77,271.63 L426.78,272.12 L427.78,272.61 L428.79,273.11 L429.79,273.61 L430.80,274.11 L431.80,274.62 L432.81,275.13 L433.81,275.65 L434.82,276.17 L435.82,276.70 L436.83,277.23 L437.83,277.76 L438.84,278.30 L439.84,278.84 L440.85,279.39 L441.85,279.94 L442.86,280.49 L443.86,281.04 L444.87,281.60 L445.88,282.16 L446.88,282.73 L447.89,283.29 L448.89,283.86 L449.90,284.43 L450.90,285.00 L451.91,285.57 L452.91,286.15 L453.92,286.72 L454.92,287.29 L455.93,287.87 L456.93,288.44 L457.94,289.01 L458.94,289.58 L459.95,290.14 L460.95,290.70 L461.96,291.26 L462.96,291.81 L463.97,292.36 L464.97,292.90 L465.98,293.43 L466.98,293.96 L467.99,294.47 L468.99,294.98 L470.00,295.47 L471.00,295.95 L472.01,296.42 L473.01,296.88 L474.02,297.31 L475.02,297.73 L476.03,298.13 L477.03,298.52 L478.04,298.88 L479.04,299.22 L480.05,299.53 L481.05,299.83 L482.06,300.09 L483.06,300.33 L484.07,300.54 L485.07,300.73 L486.08,300.88 L487.08,301.00 L488.09,301.10 L489.09,301.16 L490.10,301.19" stroke="#1e1c96" stroke-width="1.5" fill="none" stroke-dasharray="3.6 2.2"/>
<path d="M313.20,240.35 L314.20,240.71 L315.20,241.08 L316.21,241.45 L317.21,241.81 L318.21,242.18 L319.21,242.56 L320.21,242.93 L321.21,243.30 L322.22,243.68 L323.22,244.06 L324.22,244.44 L325.22,244.82 L326.22,245.20 L327.22,245.58 L328.23,245.97 L329.23,246.36 L330.23,246.74 L331.23,247.14 L332.23,247.53 L333.23,247.92 L334.24,248.32 L335.24,248.71 L336.24,249.11 L337.24,249.52 L338.24,249.92 L339.24,250.32 L340.25,250.73 L341.25,251.14 L342.25,251.55 L343.25,251.96 L344.25,252.38 L345.25,252.79 L346.26,253.21 L347.26,253.63 L348.26,254.06 L349.26,254.48 L350.26,254.91 L351.26,255.34 L352.27,255.77 L353.27,256.20 L354.27,256.64 L355.27,257.08 L356.27,257.52 L357.27,257.97 L358.28,258.41 L359.28,258.86 L360.28,259.31 L361.28,259.77 L362.28,260.22 L363.28,260.68 L364.29,261.14 L365.29,261.61 L366.29,262.08 L367.29,262.55 L368.29,263.02 L369.29,263.50 L370.30,263.98 L371.30,264.46 L372.30,264.95 L373.30,265.44 L374.30,265.93 L375.31,266.42 L376.31,266.92 L377.31,267.43 L378.31,267.93 L379.31,268.44 L380.31,268.96 L381.32,269.47 L382.32,269.99 L383.32,270.52 L384.32,271.05 L385.32,271.58 L386.32,272.12 L387.33,272.66 L388.33,273.20 L389.33,273.75 L390.33,274.31 L391.33,274.87 L392.33,275.43 L393.34,276.00 L394.34,276.57 L395.34,277.15 L396.34,277.73 L397.34,278.32 L398.34,278.91 L399.35,279.51 L400.35,280.11 L401.35,280.72 L402.35,281.34 L403.35,281.96 L404.35,282.58 L405.36,283.22 L406.36,283.85 L407.36,284.50 L408.36,285.15 L409.36,285.81 L410.36,286.47 L411.37,287.14 L412.37,287.82 L413.37,288.51 L414.37,289.20 L415.37,289.90 L416.37,290.61 L417.38,291.33 L418.38,292.05 L419.38,292.79 L420.38,293.53 L421.38,294.28 L422.38,295.04 L423.39,295.80 L424.39,296.58 L425.39,297.37 L426.39,298.17 L427.39,298.97 L428.39,299.79 L429.40,300.62 L430.40,301.45 L431.40,302.30 L432.40,303.16 L433.40,304.04 L434.41,304.92 L435.41,305.81 L436.41,306.72 L437.41,307.64 L438.41,308.58 L439.41,309.52 L440.42,310.48 L441.42,311.46 L442.42,312.44 L443.42,313.44 L444.42,314.46 L445.42,315.49 L446.43,316.53 L447.43,317.59 L448.43,318.67 L449.43,319.76 L450.43,320.86 L451.43,321.98 L452.44,323.12 L453.44,324.27 L454.44,325.43 L455.44,326.61 L456.44,327.81 L457.44,329.02 L458.45,330.23 L459.45,331.47 L460.45,332.71 L461.45,333.96 L462.45,335.22 L463.45,336.49 L464.46,337.75 L465.46,339.02 L466.46,340.29 L467.46,341.55 L468.46,342.80 L469.46,344.03 L470.47,345.25 L471.47,346.44 L472.47,347.59 L473.47,348.70 L474.47,349.77 L475.47,350.78 L476.48,351.72 L477.48,352.59 L478.48,353.37 L479.48,354.06 L480.48,354.66 L481.48,355.14 L482.49,355.50 L483.49,355.75 L484.49,355.87 L485.49,355.87 L486.49,355.73 L487.49,355.48 L488.50,355.10 L489.50,354.60 L490.50,354.00" stroke="#1e1c96" stroke-width="1.5" fill="none"/>
<polygon points="379.00,242.30 377.00,245.80 381.00,245.80" fill="#fff" stroke="#1e1c96" stroke-width="1.05" stroke-linejoin="miter"/>
<polygon points="414.00,256.30 412.00,259.80 416.00,259.80" fill="#fff" stroke="#1e1c96" stroke-width="1.05" stroke-linejoin="miter"/>
<polygon points="429.40,256.30 427.40,259.80 431.40,259.80" fill="#fff" stroke="#1e1c96" stroke-width="1.05" stroke-linejoin="miter"/>
<polygon points="440.80,256.30 438.80,259.80 442.80,259.80" fill="#fff" stroke="#1e1c96" stroke-width="1.05" stroke-linejoin="miter"/>
<polygon points="455.80,266.30 453.80,269.80 457.80,269.80" fill="#fff" stroke="#1e1c96" stroke-width="1.05" stroke-linejoin="miter"/>
<polygon points="461.90,267.30 459.90,270.80 463.90,270.80" fill="#fff" stroke="#1e1c96" stroke-width="1.05" stroke-linejoin="miter"/>
<polygon points="492.00,273.00 490.00,276.50 494.00,276.50" fill="#fff" stroke="#1e1c96" stroke-width="1.05" stroke-linejoin="miter"/>
<rect x="315.60" y="237.30" width="3.80" height="3.80" fill="#1e1c96"/>
<rect x="344.10" y="243.40" width="3.80" height="3.80" fill="#1e1c96"/>
<rect x="377.10" y="247.70" width="3.80" height="3.80" fill="#1e1c96"/>
<rect x="412.10" y="268.20" width="3.80" height="3.80" fill="#1e1c96"/>
<rect x="427.50" y="266.50" width="3.80" height="3.80" fill="#1e1c96"/>
<rect x="438.90" y="264.20" width="3.80" height="3.80" fill="#1e1c96"/>
<rect x="453.90" y="268.80" width="3.80" height="3.80" fill="#1e1c96"/>
<rect x="460.00" y="276.50" width="3.80" height="3.80" fill="#1e1c96"/>
<rect x="490.10" y="279.90" width="3.80" height="3.80" fill="#1e1c96"/>
<rect x="315.75" y="243.75" width="3.70" height="3.70" fill="#fff" stroke="#1e1c96" stroke-width="1.1"/>
<rect x="344.15" y="244.15" width="3.70" height="3.70" fill="#fff" stroke="#1e1c96" stroke-width="1.1"/>
<rect x="427.55" y="275.55" width="3.70" height="3.70" fill="#fff" stroke="#1e1c96" stroke-width="1.1"/>
<rect x="438.95" y="272.25" width="3.70" height="3.70" fill="#fff" stroke="#1e1c96" stroke-width="1.1"/>
<rect x="453.95" y="282.25" width="3.70" height="3.70" fill="#fff" stroke="#1e1c96" stroke-width="1.1"/>
<rect x="460.05" y="291.65" width="3.70" height="3.70" fill="#fff" stroke="#1e1c96" stroke-width="1.1"/>
<rect x="490.15" y="298.35" width="3.70" height="3.70" fill="#fff" stroke="#1e1c96" stroke-width="1.1"/>
<polygon points="318.00,249.30 315.70,253.30 320.30,253.30" fill="#1e1c96"/>
<polygon points="346.00,252.40 343.70,256.40 348.30,256.40" fill="#1e1c96"/>
<polygon points="379.00,260.20 376.70,264.20 381.30,264.20" fill="#1e1c96"/>
<polygon points="414.00,287.70 411.70,291.70 416.30,291.70" fill="#1e1c96"/>
<polygon points="429.40,299.40 427.10,303.40 431.70,303.40" fill="#1e1c96"/>
<polygon points="440.80,326.20 438.50,330.20 443.10,330.20" fill="#1e1c96"/>
<polygon points="455.80,320.50 453.50,324.50 458.10,324.50" fill="#1e1c96"/>
<polygon points="461.90,346.20 459.60,350.20 464.20,350.20" fill="#1e1c96"/>
<polygon points="492.00,331.90 489.70,335.90 494.30,335.90" fill="#1e1c96"/>
<circle cx="313.20" cy="237.60" r="2.9" fill="#1e1c96"/>
<rect x="314.10" y="236.60" width="3.80" height="3.80" fill="#1e1c96"/>
<text x="414.70" y="251.10" font-size="10" font-weight="bold" text-anchor="middle" fill="#111">#</text>
<text x="429.20" y="252.90" font-size="10" font-weight="bold" text-anchor="middle" fill="#111">#</text>
<text x="441.40" y="252.90" font-size="10" font-weight="bold" text-anchor="middle" fill="#111">#</text>
<text x="455.30" y="260.50" font-size="10" font-weight="bold" text-anchor="middle" fill="#111">#</text>
<text x="461.90" y="262.70" font-size="10" font-weight="bold" text-anchor="middle" fill="#111">#</text>
<text x="491.60" y="268.40" font-size="10" font-weight="bold" text-anchor="middle" fill="#111">#</text>
<text x="498.30" y="277.70" font-size="7" fill="#000" stroke="#000" stroke-width="0.35">49 bp</text>
<text x="498.30" y="286.30" font-size="7" fill="#000" stroke="#000" stroke-width="0.35">90 bp</text>
<text x="498.30" y="305.00" font-size="7" fill="#000" stroke="#000" stroke-width="0.35">202 bp</text>
<text x="498.30" y="352.70" font-size="7" fill="#000" stroke="#000" stroke-width="0.35">402 bp</text>
</svg>
</body></html>
